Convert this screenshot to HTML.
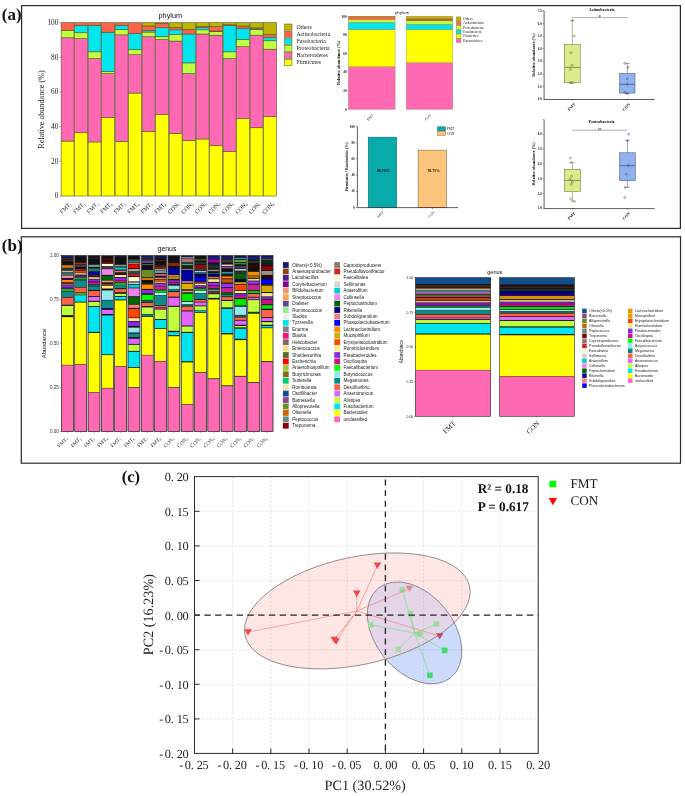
<!DOCTYPE html>
<html lang="en">
<head>
<meta charset="utf-8">
<title>Figure: phylum and genus composition, PCA</title>
<style>
html,body{margin:0;padding:0;background:#fff;}
body{width:685px;height:796px;overflow:hidden;}
svg{display:block;}
text{white-space:pre;}
</style>
</head>
<body>
<svg width="685" height="796" viewBox="0 0 685 796">
<rect x="0" y="0" width="685" height="796" fill="#ffffff"/>
<rect x="21.6" y="5.6" width="658.8" height="222.8" fill="none" stroke="#2a2a2a" stroke-width="1.2"/>
<text x="1.8" y="19.6" font-family="'Liberation Serif', serif" font-size="17" fill="#111" text-anchor="start" font-weight="bold">(a)</text>
<g stroke="#55552a" stroke-width="0.6">
<rect x="61.15" y="141.06" width="12.9" height="54.94" fill="#FFFF00"/>
<rect x="61.15" y="37.78" width="12.9" height="103.29" fill="#FF69B4"/>
<rect x="61.15" y="30.33" width="12.9" height="7.45" fill="#C0FF3E"/>
<rect x="61.15" y="22.7" width="12.9" height="7.63" fill="#FF6347"/>
<rect x="74.65" y="132.75" width="12.9" height="63.25" fill="#FFFF00"/>
<rect x="74.65" y="38.64" width="12.9" height="94.1" fill="#FF69B4"/>
<rect x="74.65" y="32.75" width="12.9" height="5.89" fill="#C0FF3E"/>
<rect x="74.65" y="25.3" width="12.9" height="7.45" fill="#00E5EE"/>
<rect x="74.65" y="22.7" width="12.9" height="2.6" fill="#FF6347"/>
<rect x="88.15" y="141.93" width="12.9" height="54.07" fill="#FFFF00"/>
<rect x="88.15" y="58.57" width="12.9" height="83.36" fill="#FF69B4"/>
<rect x="88.15" y="51.81" width="12.9" height="6.76" fill="#C0FF3E"/>
<rect x="88.15" y="25.3" width="12.9" height="26.51" fill="#00E5EE"/>
<rect x="88.15" y="22.7" width="12.9" height="2.6" fill="#FF6347"/>
<rect x="101.65" y="117.67" width="12.9" height="78.33" fill="#FFFF00"/>
<rect x="101.65" y="73.65" width="12.9" height="44.02" fill="#FF69B4"/>
<rect x="101.65" y="71.4" width="12.9" height="2.25" fill="#C0FF3E"/>
<rect x="101.65" y="32.23" width="12.9" height="39.17" fill="#00E5EE"/>
<rect x="101.65" y="22.7" width="12.9" height="9.53" fill="#FF6347"/>
<rect x="115.15" y="141.41" width="12.9" height="54.59" fill="#FFFF00"/>
<rect x="115.15" y="34.83" width="12.9" height="106.58" fill="#FF69B4"/>
<rect x="115.15" y="29.63" width="12.9" height="5.2" fill="#C0FF3E"/>
<rect x="115.15" y="25.3" width="12.9" height="4.33" fill="#00E5EE"/>
<rect x="115.15" y="22.7" width="12.9" height="2.6" fill="#FF6347"/>
<rect x="128.65" y="93.06" width="12.9" height="102.94" fill="#FFFF00"/>
<rect x="128.65" y="54.59" width="12.9" height="38.47" fill="#FF69B4"/>
<rect x="128.65" y="49.56" width="12.9" height="5.03" fill="#C0FF3E"/>
<rect x="128.65" y="33.44" width="12.9" height="16.12" fill="#00E5EE"/>
<rect x="128.65" y="22.7" width="12.9" height="10.74" fill="#FF6347"/>
<rect x="142.15" y="131.36" width="12.9" height="64.64" fill="#FFFF00"/>
<rect x="142.15" y="36.74" width="12.9" height="94.62" fill="#FF69B4"/>
<rect x="142.15" y="32.06" width="12.9" height="4.68" fill="#C0FF3E"/>
<rect x="142.15" y="30.67" width="12.9" height="1.39" fill="#00E5EE"/>
<rect x="142.15" y="25.99" width="12.9" height="4.68" fill="#FF6347"/>
<rect x="142.15" y="22.7" width="12.9" height="3.29" fill="#BDB500"/>
<rect x="155.65" y="114.55" width="12.9" height="81.45" fill="#FFFF00"/>
<rect x="155.65" y="39.51" width="12.9" height="75.04" fill="#FF69B4"/>
<rect x="155.65" y="36.74" width="12.9" height="2.77" fill="#C0FF3E"/>
<rect x="155.65" y="27.73" width="12.9" height="9.01" fill="#00E5EE"/>
<rect x="155.65" y="23.39" width="12.9" height="4.33" fill="#FF6347"/>
<rect x="155.65" y="22.7" width="12.9" height="0.69" fill="#BDB500"/>
<rect x="169.15" y="133.44" width="12.9" height="62.56" fill="#FFFF00"/>
<rect x="169.15" y="41.07" width="12.9" height="92.37" fill="#FF69B4"/>
<rect x="169.15" y="34.48" width="12.9" height="6.59" fill="#C0FF3E"/>
<rect x="169.15" y="29.81" width="12.9" height="4.68" fill="#00E5EE"/>
<rect x="169.15" y="27.38" width="12.9" height="2.43" fill="#FF6347"/>
<rect x="169.15" y="22.7" width="12.9" height="4.68" fill="#BDB500"/>
<rect x="182.65" y="140.54" width="12.9" height="55.46" fill="#FFFF00"/>
<rect x="182.65" y="73.48" width="12.9" height="67.07" fill="#FF69B4"/>
<rect x="182.65" y="62.91" width="12.9" height="10.57" fill="#C0FF3E"/>
<rect x="182.65" y="33.96" width="12.9" height="28.94" fill="#00E5EE"/>
<rect x="182.65" y="29.46" width="12.9" height="4.51" fill="#FF6347"/>
<rect x="182.65" y="22.7" width="12.9" height="6.76" fill="#BDB500"/>
<rect x="196.15" y="138.98" width="12.9" height="57.02" fill="#FFFF00"/>
<rect x="196.15" y="33.96" width="12.9" height="105.02" fill="#FF69B4"/>
<rect x="196.15" y="29.81" width="12.9" height="4.16" fill="#C0FF3E"/>
<rect x="196.15" y="27.73" width="12.9" height="2.08" fill="#00E5EE"/>
<rect x="196.15" y="26.51" width="12.9" height="1.21" fill="#FF6347"/>
<rect x="196.15" y="22.7" width="12.9" height="3.81" fill="#BDB500"/>
<rect x="209.65" y="145.74" width="12.9" height="50.26" fill="#FFFF00"/>
<rect x="209.65" y="35.18" width="12.9" height="110.57" fill="#FF69B4"/>
<rect x="209.65" y="31.71" width="12.9" height="3.47" fill="#C0FF3E"/>
<rect x="209.65" y="31.02" width="12.9" height="0.69" fill="#00E5EE"/>
<rect x="209.65" y="26.51" width="12.9" height="4.51" fill="#FF6347"/>
<rect x="209.65" y="22.7" width="12.9" height="3.81" fill="#BDB500"/>
<rect x="223.15" y="151.46" width="12.9" height="44.54" fill="#FFFF00"/>
<rect x="223.15" y="58.57" width="12.9" height="92.89" fill="#FF69B4"/>
<rect x="223.15" y="51.81" width="12.9" height="6.76" fill="#C0FF3E"/>
<rect x="223.15" y="25.65" width="12.9" height="26.17" fill="#00E5EE"/>
<rect x="223.15" y="24.78" width="12.9" height="0.87" fill="#FF6347"/>
<rect x="223.15" y="22.7" width="12.9" height="2.08" fill="#BDB500"/>
<rect x="236.65" y="118.71" width="12.9" height="77.29" fill="#FFFF00"/>
<rect x="236.65" y="46.62" width="12.9" height="72.09" fill="#FF69B4"/>
<rect x="236.65" y="39.68" width="12.9" height="6.93" fill="#C0FF3E"/>
<rect x="236.65" y="28.25" width="12.9" height="11.44" fill="#00E5EE"/>
<rect x="236.65" y="25.99" width="12.9" height="2.25" fill="#FF6347"/>
<rect x="236.65" y="22.7" width="12.9" height="3.29" fill="#BDB500"/>
<rect x="250.15" y="127.72" width="12.9" height="68.28" fill="#FFFF00"/>
<rect x="250.15" y="35.18" width="12.9" height="92.54" fill="#FF69B4"/>
<rect x="250.15" y="29.46" width="12.9" height="5.72" fill="#C0FF3E"/>
<rect x="250.15" y="28.94" width="12.9" height="0.52" fill="#00E5EE"/>
<rect x="250.15" y="27.9" width="12.9" height="1.04" fill="#FF6347"/>
<rect x="250.15" y="22.7" width="12.9" height="5.2" fill="#BDB500"/>
<rect x="263.65" y="116.63" width="12.9" height="79.37" fill="#FFFF00"/>
<rect x="263.65" y="49.21" width="12.9" height="67.41" fill="#FF69B4"/>
<rect x="263.65" y="40.72" width="12.9" height="8.49" fill="#C0FF3E"/>
<rect x="263.65" y="37.26" width="12.9" height="3.47" fill="#00E5EE"/>
<rect x="263.65" y="34.48" width="12.9" height="2.77" fill="#FF6347"/>
<rect x="263.65" y="22.7" width="12.9" height="11.78" fill="#BDB500"/>
</g>
<text x="58.4" y="198.4" font-family="'Liberation Serif', serif" font-size="7.3" fill="#222" text-anchor="end" font-weight="normal">0</text>
<line x1="59.3" y1="196" x2="61" y2="196" stroke="#555" stroke-width="0.5"/>
<text x="58.4" y="163.74" font-family="'Liberation Serif', serif" font-size="7.3" fill="#222" text-anchor="end" font-weight="normal">20</text>
<line x1="59.3" y1="161.34" x2="61" y2="161.34" stroke="#555" stroke-width="0.5"/>
<text x="58.4" y="129.08" font-family="'Liberation Serif', serif" font-size="7.3" fill="#222" text-anchor="end" font-weight="normal">40</text>
<line x1="59.3" y1="126.68" x2="61" y2="126.68" stroke="#555" stroke-width="0.5"/>
<text x="58.4" y="94.42" font-family="'Liberation Serif', serif" font-size="7.3" fill="#222" text-anchor="end" font-weight="normal">60</text>
<line x1="59.3" y1="92.02" x2="61" y2="92.02" stroke="#555" stroke-width="0.5"/>
<text x="58.4" y="59.76" font-family="'Liberation Serif', serif" font-size="7.3" fill="#222" text-anchor="end" font-weight="normal">80</text>
<line x1="59.3" y1="57.36" x2="61" y2="57.36" stroke="#555" stroke-width="0.5"/>
<text x="58.4" y="25.1" font-family="'Liberation Serif', serif" font-size="7.3" fill="#222" text-anchor="end" font-weight="normal">100</text>
<line x1="59.3" y1="22.7" x2="61" y2="22.7" stroke="#555" stroke-width="0.5"/>
<text x="43.6" y="109.5" font-family="'Liberation Serif', serif" font-size="8.2" fill="#222" text-anchor="middle" font-weight="normal" transform="rotate(-90 43.6 109.5)">Relative abundance (%)</text>
<text x="170.3" y="18.2" font-family="'Liberation Sans', sans-serif" font-size="7.3" fill="#111" text-anchor="middle" font-weight="normal">phylum</text>
<text x="67" y="209.2" font-family="'Liberation Serif', serif" font-size="5.9" fill="#222" text-anchor="middle" font-weight="normal" transform="rotate(-45 67 209.2)">FMT<tspan font-size="3.6" dy="1.2">1</tspan></text>
<text x="80.5" y="209.2" font-family="'Liberation Serif', serif" font-size="5.9" fill="#222" text-anchor="middle" font-weight="normal" transform="rotate(-45 80.5 209.2)">FMT<tspan font-size="3.6" dy="1.2">2</tspan></text>
<text x="94" y="209.2" font-family="'Liberation Serif', serif" font-size="5.9" fill="#222" text-anchor="middle" font-weight="normal" transform="rotate(-45 94 209.2)">FMT<tspan font-size="3.6" dy="1.2">3</tspan></text>
<text x="107.5" y="209.2" font-family="'Liberation Serif', serif" font-size="5.9" fill="#222" text-anchor="middle" font-weight="normal" transform="rotate(-45 107.5 209.2)">FMT<tspan font-size="3.6" dy="1.2">4</tspan></text>
<text x="121" y="209.2" font-family="'Liberation Serif', serif" font-size="5.9" fill="#222" text-anchor="middle" font-weight="normal" transform="rotate(-45 121 209.2)">FMT<tspan font-size="3.6" dy="1.2">5</tspan></text>
<text x="134.5" y="209.2" font-family="'Liberation Serif', serif" font-size="5.9" fill="#222" text-anchor="middle" font-weight="normal" transform="rotate(-45 134.5 209.2)">FMT<tspan font-size="3.6" dy="1.2">6</tspan></text>
<text x="148" y="209.2" font-family="'Liberation Serif', serif" font-size="5.9" fill="#222" text-anchor="middle" font-weight="normal" transform="rotate(-45 148 209.2)">FMT<tspan font-size="3.6" dy="1.2">7</tspan></text>
<text x="161.5" y="209.2" font-family="'Liberation Serif', serif" font-size="5.9" fill="#222" text-anchor="middle" font-weight="normal" transform="rotate(-45 161.5 209.2)">FMT<tspan font-size="3.6" dy="1.2">8</tspan></text>
<text x="175" y="209.2" font-family="'Liberation Serif', serif" font-size="5.9" fill="#222" text-anchor="middle" font-weight="normal" transform="rotate(-45 175 209.2)">CON<tspan font-size="3.6" dy="1.2">1</tspan></text>
<text x="188.5" y="209.2" font-family="'Liberation Serif', serif" font-size="5.9" fill="#222" text-anchor="middle" font-weight="normal" transform="rotate(-45 188.5 209.2)">CON<tspan font-size="3.6" dy="1.2">2</tspan></text>
<text x="202" y="209.2" font-family="'Liberation Serif', serif" font-size="5.9" fill="#222" text-anchor="middle" font-weight="normal" transform="rotate(-45 202 209.2)">CON<tspan font-size="3.6" dy="1.2">3</tspan></text>
<text x="215.5" y="209.2" font-family="'Liberation Serif', serif" font-size="5.9" fill="#222" text-anchor="middle" font-weight="normal" transform="rotate(-45 215.5 209.2)">CON<tspan font-size="3.6" dy="1.2">4</tspan></text>
<text x="229" y="209.2" font-family="'Liberation Serif', serif" font-size="5.9" fill="#222" text-anchor="middle" font-weight="normal" transform="rotate(-45 229 209.2)">CON<tspan font-size="3.6" dy="1.2">5</tspan></text>
<text x="242.5" y="209.2" font-family="'Liberation Serif', serif" font-size="5.9" fill="#222" text-anchor="middle" font-weight="normal" transform="rotate(-45 242.5 209.2)">CON<tspan font-size="3.6" dy="1.2">6</tspan></text>
<text x="256" y="209.2" font-family="'Liberation Serif', serif" font-size="5.9" fill="#222" text-anchor="middle" font-weight="normal" transform="rotate(-45 256 209.2)">CON<tspan font-size="3.6" dy="1.2">7</tspan></text>
<text x="269.5" y="209.2" font-family="'Liberation Serif', serif" font-size="5.9" fill="#222" text-anchor="middle" font-weight="normal" transform="rotate(-45 269.5 209.2)">CON<tspan font-size="3.6" dy="1.2">8</tspan></text>
<rect x="284.5" y="24" width="7.5" height="6.1" fill="#BDB500" stroke="#6b6b2a" stroke-width="0.6"/>
<text x="296.4" y="28.9" font-family="'Liberation Serif', serif" font-size="5.75" fill="#222" text-anchor="start" font-weight="normal">Others</text>
<rect x="284.5" y="31.1" width="7.5" height="6.1" fill="#FF6347" stroke="#6b6b2a" stroke-width="0.6"/>
<text x="296.4" y="36" font-family="'Liberation Serif', serif" font-size="5.75" fill="#222" text-anchor="start" font-weight="normal">Actinobacteria</text>
<rect x="284.5" y="38.2" width="7.5" height="6.1" fill="#00E5EE" stroke="#6b6b2a" stroke-width="0.6"/>
<text x="296.4" y="43.1" font-family="'Liberation Serif', serif" font-size="5.75" fill="#222" text-anchor="start" font-weight="normal">Fusobacteria</text>
<rect x="284.5" y="45.3" width="7.5" height="6.1" fill="#C0FF3E" stroke="#6b6b2a" stroke-width="0.6"/>
<text x="296.4" y="50.2" font-family="'Liberation Serif', serif" font-size="5.75" fill="#222" text-anchor="start" font-weight="normal">Proteobacteria</text>
<rect x="284.5" y="52.4" width="7.5" height="6.1" fill="#FF69B4" stroke="#6b6b2a" stroke-width="0.6"/>
<text x="296.4" y="57.3" font-family="'Liberation Serif', serif" font-size="5.75" fill="#222" text-anchor="start" font-weight="normal">Bacteroidetes</text>
<rect x="284.5" y="59.5" width="7.5" height="6.1" fill="#FFFF00" stroke="#6b6b2a" stroke-width="0.6"/>
<text x="296.4" y="64.4" font-family="'Liberation Serif', serif" font-size="5.75" fill="#222" text-anchor="start" font-weight="normal">Firmicutes</text>
<g stroke="#8a7a3a" stroke-width="0.35">
<rect x="348.4" y="66.8" width="46.7" height="42.5" fill="#FF69B4"/>
<rect x="348.4" y="29.6" width="46.7" height="37.2" fill="#FFFF00"/>
<rect x="348.4" y="22.34" width="46.7" height="7.25" fill="#00E5EE"/>
<rect x="348.4" y="19.65" width="46.7" height="2.7" fill="#C0FF3E"/>
<rect x="348.4" y="16.86" width="46.7" height="2.79" fill="#FF6347"/>
<rect x="348.4" y="16.3" width="46.7" height="0.56" fill="#BDB500"/>
<rect x="406.3" y="62.61" width="46.5" height="46.69" fill="#FF69B4"/>
<rect x="406.3" y="29.6" width="46.5" height="33.02" fill="#FFFF00"/>
<rect x="406.3" y="24.3" width="46.5" height="5.3" fill="#00E5EE"/>
<rect x="406.3" y="20.86" width="46.5" height="3.44" fill="#C0FF3E"/>
<rect x="406.3" y="18.72" width="46.5" height="2.14" fill="#BC5F28"/>
<rect x="406.3" y="16.3" width="46.5" height="2.42" fill="#BDB500"/>
</g>
<text x="346.6" y="110.5" font-family="'Liberation Serif', serif" font-size="3.4" fill="#111" text-anchor="end" font-weight="bold">0</text>
<line x1="347" y1="109.3" x2="348.2" y2="109.3" stroke="#666" stroke-width="0.3"/>
<text x="346.6" y="91.9" font-family="'Liberation Serif', serif" font-size="3.4" fill="#111" text-anchor="end" font-weight="bold">20</text>
<line x1="347" y1="90.7" x2="348.2" y2="90.7" stroke="#666" stroke-width="0.3"/>
<text x="346.6" y="73.3" font-family="'Liberation Serif', serif" font-size="3.4" fill="#111" text-anchor="end" font-weight="bold">40</text>
<line x1="347" y1="72.1" x2="348.2" y2="72.1" stroke="#666" stroke-width="0.3"/>
<text x="346.6" y="54.7" font-family="'Liberation Serif', serif" font-size="3.4" fill="#111" text-anchor="end" font-weight="bold">60</text>
<line x1="347" y1="53.5" x2="348.2" y2="53.5" stroke="#666" stroke-width="0.3"/>
<text x="346.6" y="36.1" font-family="'Liberation Serif', serif" font-size="3.4" fill="#111" text-anchor="end" font-weight="bold">80</text>
<line x1="347" y1="34.9" x2="348.2" y2="34.9" stroke="#666" stroke-width="0.3"/>
<text x="346.6" y="17.5" font-family="'Liberation Serif', serif" font-size="3.4" fill="#111" text-anchor="end" font-weight="bold">100</text>
<line x1="347" y1="16.3" x2="348.2" y2="16.3" stroke="#666" stroke-width="0.3"/>
<text x="340.2" y="62.7" font-family="'Liberation Serif', serif" font-size="4.3" fill="#000" text-anchor="middle" font-weight="bold" transform="rotate(-90 340.2 62.7)">Relative abundance (%)</text>
<text x="402" y="13.8" font-family="'Liberation Sans', sans-serif" font-size="4.4" fill="#222" text-anchor="middle" font-weight="normal">phylum</text>
<text x="371" y="118.4" font-family="'Liberation Serif', serif" font-size="3.6" fill="#222" text-anchor="middle" font-weight="normal" transform="rotate(-45 371 118.4)">FMT</text>
<text x="428.6" y="118.4" font-family="'Liberation Serif', serif" font-size="3.6" fill="#222" text-anchor="middle" font-weight="normal" transform="rotate(-45 428.6 118.4)">CON</text>
<rect x="456.3" y="16.9" width="4.7" height="3.9" fill="#BDB500" stroke="#7a7a3a" stroke-width="0.35"/>
<text x="463.3" y="20" font-family="'Liberation Serif', serif" font-size="3.5" fill="#222" text-anchor="start" font-weight="normal">Others</text>
<rect x="456.3" y="21.27" width="4.7" height="3.9" fill="#FF6347" stroke="#7a7a3a" stroke-width="0.35"/>
<text x="463.3" y="24.37" font-family="'Liberation Serif', serif" font-size="3.5" fill="#222" text-anchor="start" font-weight="normal">Actinobacteria</text>
<rect x="456.3" y="25.64" width="4.7" height="3.9" fill="#C0FF3E" stroke="#7a7a3a" stroke-width="0.35"/>
<text x="463.3" y="28.74" font-family="'Liberation Serif', serif" font-size="3.5" fill="#222" text-anchor="start" font-weight="normal">Proteobacteria</text>
<rect x="456.3" y="30.01" width="4.7" height="3.9" fill="#00E5EE" stroke="#7a7a3a" stroke-width="0.35"/>
<text x="463.3" y="33.11" font-family="'Liberation Serif', serif" font-size="3.5" fill="#222" text-anchor="start" font-weight="normal">Fusobacteria</text>
<rect x="456.3" y="34.38" width="4.7" height="3.9" fill="#FFFF00" stroke="#7a7a3a" stroke-width="0.35"/>
<text x="463.3" y="37.48" font-family="'Liberation Serif', serif" font-size="3.5" fill="#222" text-anchor="start" font-weight="normal">Firmicutes</text>
<rect x="456.3" y="38.75" width="4.7" height="3.9" fill="#FF69B4" stroke="#7a7a3a" stroke-width="0.35"/>
<text x="463.3" y="41.85" font-family="'Liberation Serif', serif" font-size="3.5" fill="#222" text-anchor="start" font-weight="normal">Bacteroidetes</text>
<rect x="368.2" y="137.15" width="28.5" height="70.45" fill="#08AAAA" stroke="#1a5a5a" stroke-width="0.5"/>
<rect x="418.1" y="150.15" width="28.5" height="57.45" fill="#FDC57B" stroke="#6a5030" stroke-width="0.5"/>
<line x1="357.4" y1="126.4" x2="357.4" y2="207.6" stroke="#2a2a2a" stroke-width="0.75"/>
<line x1="357.4" y1="207.6" x2="458" y2="207.6" stroke="#2a2a2a" stroke-width="0.75"/>
<text x="354.6" y="208.7" font-family="'Liberation Serif', serif" font-size="3.2" fill="#111" text-anchor="end" font-weight="bold">0</text>
<line x1="355.6" y1="207.6" x2="357.4" y2="207.6" stroke="#333" stroke-width="0.4"/>
<text x="354.6" y="192.46" font-family="'Liberation Serif', serif" font-size="3.2" fill="#111" text-anchor="end" font-weight="bold">20</text>
<line x1="355.6" y1="191.36" x2="357.4" y2="191.36" stroke="#333" stroke-width="0.4"/>
<text x="354.6" y="176.22" font-family="'Liberation Serif', serif" font-size="3.2" fill="#111" text-anchor="end" font-weight="bold">40</text>
<line x1="355.6" y1="175.12" x2="357.4" y2="175.12" stroke="#333" stroke-width="0.4"/>
<text x="354.6" y="159.98" font-family="'Liberation Serif', serif" font-size="3.2" fill="#111" text-anchor="end" font-weight="bold">60</text>
<line x1="355.6" y1="158.88" x2="357.4" y2="158.88" stroke="#333" stroke-width="0.4"/>
<text x="354.6" y="143.74" font-family="'Liberation Serif', serif" font-size="3.2" fill="#111" text-anchor="end" font-weight="bold">80</text>
<line x1="355.6" y1="142.64" x2="357.4" y2="142.64" stroke="#333" stroke-width="0.4"/>
<text x="354.6" y="127.5" font-family="'Liberation Serif', serif" font-size="3.2" fill="#111" text-anchor="end" font-weight="bold">100</text>
<line x1="355.6" y1="126.4" x2="357.4" y2="126.4" stroke="#333" stroke-width="0.4"/>
<line x1="382.5" y1="207.6" x2="382.5" y2="209.2" stroke="#333" stroke-width="0.4"/>
<line x1="432.4" y1="207.6" x2="432.4" y2="209.2" stroke="#333" stroke-width="0.4"/>
<text x="383.3" y="171.9" font-family="'Liberation Serif', serif" font-size="3.8" fill="#000" text-anchor="middle" font-weight="bold">86.76%</text>
<text x="433.6" y="171.9" font-family="'Liberation Serif', serif" font-size="3.8" fill="#000" text-anchor="middle" font-weight="bold">70.75%</text>
<text x="348" y="167" font-family="'Liberation Serif', serif" font-size="4" fill="#000" text-anchor="middle" font-weight="bold" transform="rotate(-90 348 167)">Firmicutes / Bacteroides (%)</text>
<text x="381.5" y="215.4" font-family="'Liberation Serif', serif" font-size="3.6" fill="#222" text-anchor="middle" font-weight="normal" transform="rotate(-45 381.5 215.4)">FMT</text>
<text x="432.2" y="215.4" font-family="'Liberation Serif', serif" font-size="3.6" fill="#222" text-anchor="middle" font-weight="normal" transform="rotate(-45 432.2 215.4)">CON</text>
<rect x="437.5" y="126.8" width="8.1" height="4.1" fill="#08AAAA" stroke="#1a5a5a" stroke-width="0.4"/>
<rect x="437.5" y="131.4" width="8.1" height="4.1" fill="#FDC57B" stroke="#6a5030" stroke-width="0.4"/>
<text x="446.8" y="130.2" font-family="'Liberation Serif', serif" font-size="3.6" fill="#222" text-anchor="start" font-weight="normal">FMT</text>
<text x="446.8" y="134.8" font-family="'Liberation Serif', serif" font-size="3.6" fill="#222" text-anchor="start" font-weight="normal">CON</text>
<line x1="544.1" y1="10.9" x2="544.1" y2="99.5" stroke="#2a2a2a" stroke-width="0.75"/>
<line x1="544.1" y1="99.5" x2="654.7" y2="99.5" stroke="#2a2a2a" stroke-width="0.75"/>
<text x="541.8" y="100.3" font-family="'Liberation Serif', serif" font-size="3.2" fill="#111" text-anchor="end" font-weight="bold">0.0</text>
<line x1="542.6" y1="99.2" x2="544.1" y2="99.2" stroke="#333" stroke-width="0.4"/>
<text x="541.8" y="87.69" font-family="'Liberation Serif', serif" font-size="3.2" fill="#111" text-anchor="end" font-weight="bold">1.0</text>
<line x1="542.6" y1="86.59" x2="544.1" y2="86.59" stroke="#333" stroke-width="0.4"/>
<text x="541.8" y="75.07" font-family="'Liberation Serif', serif" font-size="3.2" fill="#111" text-anchor="end" font-weight="bold">2.0</text>
<line x1="542.6" y1="73.97" x2="544.1" y2="73.97" stroke="#333" stroke-width="0.4"/>
<text x="541.8" y="62.46" font-family="'Liberation Serif', serif" font-size="3.2" fill="#111" text-anchor="end" font-weight="bold">3.0</text>
<line x1="542.6" y1="61.36" x2="544.1" y2="61.36" stroke="#333" stroke-width="0.4"/>
<text x="541.8" y="49.84" font-family="'Liberation Serif', serif" font-size="3.2" fill="#111" text-anchor="end" font-weight="bold">4.0</text>
<line x1="542.6" y1="48.74" x2="544.1" y2="48.74" stroke="#333" stroke-width="0.4"/>
<text x="541.8" y="37.23" font-family="'Liberation Serif', serif" font-size="3.2" fill="#111" text-anchor="end" font-weight="bold">5.0</text>
<line x1="542.6" y1="36.13" x2="544.1" y2="36.13" stroke="#333" stroke-width="0.4"/>
<text x="541.8" y="24.61" font-family="'Liberation Serif', serif" font-size="3.2" fill="#111" text-anchor="end" font-weight="bold">6.0</text>
<line x1="542.6" y1="23.51" x2="544.1" y2="23.51" stroke="#333" stroke-width="0.4"/>
<text x="541.8" y="12" font-family="'Liberation Serif', serif" font-size="3.2" fill="#111" text-anchor="end" font-weight="bold">7.0</text>
<line x1="542.6" y1="10.9" x2="544.1" y2="10.9" stroke="#333" stroke-width="0.4"/>
<line x1="542.6" y1="10.9" x2="544.1" y2="10.9" stroke="#333" stroke-width="0.4"/>
<text x="601.7" y="10.6" font-family="'Liberation Serif', serif" font-size="4.1" fill="#000" text-anchor="middle" font-weight="bold">Actinobacteria</text>
<text x="535.4" y="55.05" font-family="'Liberation Serif', serif" font-size="4.2" fill="#000" text-anchor="middle" font-weight="bold" transform="rotate(-90 535.4 55.05)">Relative abundance (%)</text>
<line x1="572.1" y1="17.6" x2="627.3" y2="17.6" stroke="#777" stroke-width="0.6"/>
<text x="599.6" y="18.5" font-family="'Liberation Serif', serif" font-size="6.5" fill="#333" text-anchor="middle" font-weight="normal">*</text>
<line x1="572.3" y1="20.4" x2="572.3" y2="44.4" stroke="#5f6a35" stroke-width="0.5"/>
<line x1="572.3" y1="82.8" x2="572.3" y2="83.2" stroke="#5f6a35" stroke-width="0.5"/>
<line x1="570.1" y1="20.4" x2="574.5" y2="20.4" stroke="#5f6a35" stroke-width="0.5"/>
<line x1="570.1" y1="83.2" x2="574.5" y2="83.2" stroke="#5f6a35" stroke-width="0.5"/>
<rect x="564.4" y="44.4" width="15.8" height="38.4" fill="#D9EC8A" stroke="#5f6a35" stroke-width="0.5"/>
<line x1="564.4" y1="67.4" x2="580.2" y2="67.4" stroke="#5f6a35" stroke-width="0.7"/>
<circle cx="574.3" cy="36.1" r="1.0" fill="none" stroke="#5f6a35" stroke-width="0.5"/>
<circle cx="570.8" cy="52.6" r="1.0" fill="none" stroke="#5f6a35" stroke-width="0.5"/>
<circle cx="571.9" cy="65.3" r="1.0" fill="none" stroke="#5f6a35" stroke-width="0.5"/>
<circle cx="570.4" cy="69.6" r="1.0" fill="none" stroke="#5f6a35" stroke-width="0.5"/>
<circle cx="570" cy="82.8" r="1.0" fill="none" stroke="#5f6a35" stroke-width="0.5"/>
<circle cx="572" cy="82.3" r="1.0" fill="none" stroke="#5f6a35" stroke-width="0.5"/>
<circle cx="572.5" cy="20.4" r="1.0" fill="none" stroke="#5f6a35" stroke-width="0.5"/>
<line x1="572.3" y1="99.2" x2="572.3" y2="100.7" stroke="#333" stroke-width="0.4"/>
<line x1="627.3" y1="63.5" x2="627.3" y2="73.4" stroke="#3a4870" stroke-width="0.5"/>
<line x1="627.3" y1="93.1" x2="627.3" y2="93.6" stroke="#3a4870" stroke-width="0.5"/>
<line x1="625.1" y1="63.5" x2="629.5" y2="63.5" stroke="#3a4870" stroke-width="0.5"/>
<line x1="625.1" y1="93.6" x2="629.5" y2="93.6" stroke="#3a4870" stroke-width="0.5"/>
<rect x="619.6" y="73.4" width="15.4" height="19.7" fill="#8FB2EF" stroke="#3a4870" stroke-width="0.5"/>
<line x1="619.6" y1="84.3" x2="635" y2="84.3" stroke="#3a4870" stroke-width="0.7"/>
<circle cx="624.7" cy="63.3" r="1.0" fill="none" stroke="#3a4870" stroke-width="0.5"/>
<circle cx="627.9" cy="67.4" r="1.0" fill="none" stroke="#3a4870" stroke-width="0.5"/>
<circle cx="627.3" cy="78.8" r="1.0" fill="none" stroke="#3a4870" stroke-width="0.5"/>
<circle cx="627.3" cy="84.3" r="1.0" fill="none" stroke="#3a4870" stroke-width="0.5"/>
<circle cx="625.1" cy="92.4" r="1.0" fill="none" stroke="#3a4870" stroke-width="0.5"/>
<circle cx="627.3" cy="93.7" r="1.0" fill="none" stroke="#3a4870" stroke-width="0.5"/>
<line x1="627.3" y1="99.2" x2="627.3" y2="100.7" stroke="#333" stroke-width="0.4"/>
<text x="572.4" y="107.8" font-family="'Liberation Serif', serif" font-size="4" fill="#111" text-anchor="middle" font-weight="bold" transform="rotate(-45 572.4 107.8)">FMT</text>
<text x="627.2" y="107.8" font-family="'Liberation Serif', serif" font-size="4" fill="#111" text-anchor="middle" font-weight="bold" transform="rotate(-45 627.2 107.8)">CON</text>
<line x1="544.1" y1="119.6" x2="544.1" y2="208.6" stroke="#2a2a2a" stroke-width="0.75"/>
<line x1="544.1" y1="208.6" x2="654.7" y2="208.6" stroke="#2a2a2a" stroke-width="0.75"/>
<text x="541.8" y="209.4" font-family="'Liberation Serif', serif" font-size="3.2" fill="#111" text-anchor="end" font-weight="bold">1.0</text>
<line x1="542.6" y1="208.3" x2="544.1" y2="208.3" stroke="#333" stroke-width="0.4"/>
<text x="541.8" y="194.62" font-family="'Liberation Serif', serif" font-size="3.2" fill="#111" text-anchor="end" font-weight="bold">2.0</text>
<line x1="542.6" y1="193.52" x2="544.1" y2="193.52" stroke="#333" stroke-width="0.4"/>
<text x="541.8" y="179.83" font-family="'Liberation Serif', serif" font-size="3.2" fill="#111" text-anchor="end" font-weight="bold">3.0</text>
<line x1="542.6" y1="178.73" x2="544.1" y2="178.73" stroke="#333" stroke-width="0.4"/>
<text x="541.8" y="165.05" font-family="'Liberation Serif', serif" font-size="3.2" fill="#111" text-anchor="end" font-weight="bold">4.0</text>
<line x1="542.6" y1="163.95" x2="544.1" y2="163.95" stroke="#333" stroke-width="0.4"/>
<text x="541.8" y="150.27" font-family="'Liberation Serif', serif" font-size="3.2" fill="#111" text-anchor="end" font-weight="bold">5.0</text>
<line x1="542.6" y1="149.17" x2="544.1" y2="149.17" stroke="#333" stroke-width="0.4"/>
<text x="541.8" y="135.48" font-family="'Liberation Serif', serif" font-size="3.2" fill="#111" text-anchor="end" font-weight="bold">6.0</text>
<line x1="542.6" y1="134.38" x2="544.1" y2="134.38" stroke="#333" stroke-width="0.4"/>
<line x1="542.6" y1="119.6" x2="544.1" y2="119.6" stroke="#333" stroke-width="0.4"/>
<text x="601.7" y="122.6" font-family="'Liberation Serif', serif" font-size="4.1" fill="#000" text-anchor="middle" font-weight="bold">Proteobacteria</text>
<text x="535.4" y="163.95" font-family="'Liberation Serif', serif" font-size="4.2" fill="#000" text-anchor="middle" font-weight="bold" transform="rotate(-90 535.4 163.95)">Relative abundance (%)</text>
<line x1="572.1" y1="130.2" x2="627.3" y2="130.2" stroke="#777" stroke-width="0.6"/>
<text x="599.6" y="129.6" font-family="'Liberation Serif', serif" font-size="4.2" fill="#333" text-anchor="middle" font-weight="normal">ns</text>
<line x1="572.45" y1="162.5" x2="572.45" y2="169.4" stroke="#5f6a35" stroke-width="0.5"/>
<line x1="572.45" y1="191.5" x2="572.45" y2="201.2" stroke="#5f6a35" stroke-width="0.5"/>
<line x1="570.25" y1="162.5" x2="574.65" y2="162.5" stroke="#5f6a35" stroke-width="0.5"/>
<line x1="570.25" y1="201.2" x2="574.65" y2="201.2" stroke="#5f6a35" stroke-width="0.5"/>
<rect x="564.4" y="169.4" width="16.1" height="22.1" fill="#D9EC8A" stroke="#5f6a35" stroke-width="0.5"/>
<line x1="564.4" y1="180.4" x2="580.5" y2="180.4" stroke="#5f6a35" stroke-width="0.7"/>
<circle cx="570.4" cy="158.1" r="1.0" fill="none" stroke="#5f6a35" stroke-width="0.5"/>
<circle cx="571.5" cy="176.2" r="1.0" fill="none" stroke="#5f6a35" stroke-width="0.5"/>
<circle cx="570.2" cy="179.1" r="1.0" fill="none" stroke="#5f6a35" stroke-width="0.5"/>
<circle cx="572.2" cy="182" r="1.0" fill="none" stroke="#5f6a35" stroke-width="0.5"/>
<circle cx="571.3" cy="184.4" r="1.0" fill="none" stroke="#5f6a35" stroke-width="0.5"/>
<circle cx="570.5" cy="198.6" r="1.0" fill="none" stroke="#5f6a35" stroke-width="0.5"/>
<circle cx="574.4" cy="201.3" r="1.0" fill="none" stroke="#5f6a35" stroke-width="0.5"/>
<circle cx="571" cy="162.5" r="1.0" fill="none" stroke="#5f6a35" stroke-width="0.5"/>
<line x1="572.45" y1="208.3" x2="572.45" y2="209.8" stroke="#333" stroke-width="0.4"/>
<line x1="627.45" y1="140.5" x2="627.45" y2="152.8" stroke="#3a4870" stroke-width="0.5"/>
<line x1="627.45" y1="180.7" x2="627.45" y2="187.5" stroke="#3a4870" stroke-width="0.5"/>
<line x1="625.25" y1="140.5" x2="629.65" y2="140.5" stroke="#3a4870" stroke-width="0.5"/>
<line x1="625.25" y1="187.5" x2="629.65" y2="187.5" stroke="#3a4870" stroke-width="0.5"/>
<rect x="619.6" y="152.8" width="15.7" height="27.9" fill="#8FB2EF" stroke="#3a4870" stroke-width="0.5"/>
<line x1="619.6" y1="165.7" x2="635.3" y2="165.7" stroke="#3a4870" stroke-width="0.7"/>
<circle cx="628.7" cy="134.2" r="1.0" fill="none" stroke="#3a4870" stroke-width="0.5"/>
<circle cx="627.5" cy="140.5" r="1.0" fill="none" stroke="#3a4870" stroke-width="0.5"/>
<circle cx="628.3" cy="165.5" r="1.0" fill="none" stroke="#3a4870" stroke-width="0.5"/>
<circle cx="626.3" cy="174.2" r="1.0" fill="none" stroke="#3a4870" stroke-width="0.5"/>
<circle cx="625.2" cy="187.4" r="1.0" fill="none" stroke="#3a4870" stroke-width="0.5"/>
<circle cx="624.8" cy="197.5" r="1.0" fill="none" stroke="#3a4870" stroke-width="0.5"/>
<line x1="627.45" y1="208.3" x2="627.45" y2="209.8" stroke="#333" stroke-width="0.4"/>
<text x="572.4" y="216.9" font-family="'Liberation Serif', serif" font-size="4" fill="#111" text-anchor="middle" font-weight="bold" transform="rotate(-45 572.4 216.9)">FMT</text>
<text x="627.2" y="216.9" font-family="'Liberation Serif', serif" font-size="4" fill="#111" text-anchor="middle" font-weight="bold" transform="rotate(-45 627.2 216.9)">CON</text>
<rect x="21.3" y="236.8" width="659.2" height="226.4" fill="none" stroke="#2a2a2a" stroke-width="1.2"/>
<text x="1.8" y="250.7" font-family="'Liberation Serif', serif" font-size="17" fill="#111" text-anchor="start" font-weight="bold">(b)</text>
<rect x="61.4" y="255.6" width="12" height="176" fill="#101010"/>
<rect x="61.65" y="255.6" width="11.5" height="2.12" fill="#191970"/>
<rect x="61.65" y="257.98" width="11.5" height="0.7" fill="#6B3A1A"/>
<rect x="61.65" y="259.92" width="11.5" height="1.06" fill="#3A3A3A"/>
<rect x="61.65" y="265.19" width="11.5" height="2.64" fill="#E07800"/>
<rect x="61.65" y="268.09" width="11.5" height="2.37" fill="#1A3A3A"/>
<rect x="61.65" y="270.73" width="11.5" height="1.5" fill="#D2B48C"/>
<rect x="61.65" y="272.4" width="11.5" height="2.9" fill="#2F6F6F"/>
<rect x="61.65" y="275.57" width="11.5" height="2.37" fill="#FF8C8C"/>
<rect x="61.65" y="278.12" width="11.5" height="1.58" fill="#2A0A6A"/>
<rect x="61.65" y="279.97" width="11.5" height="2.37" fill="#FF8C00"/>
<rect x="61.65" y="282.34" width="11.5" height="1.5" fill="#5A2D00"/>
<rect x="61.65" y="283.84" width="11.5" height="1.14" fill="#8B7355"/>
<rect x="61.65" y="285.25" width="11.5" height="2.37" fill="#8A2BE2"/>
<rect x="61.65" y="287.62" width="11.5" height="1.14" fill="#5A1A7A"/>
<rect x="61.65" y="288.94" width="11.5" height="2.2" fill="#1DB31D"/>
<rect x="61.65" y="291.31" width="11.5" height="0.7" fill="#1A5A5A"/>
<rect x="61.65" y="292.02" width="11.5" height="5.01" fill="#108B8B"/>
<rect x="61.65" y="297.73" width="11.5" height="7.04" fill="#FF6347"/>
<rect x="61.65" y="305.91" width="11.5" height="9.23" fill="#C0FF3E"/>
<rect x="61.65" y="317.1" width="11.5" height="47.8" fill="#FFFF00"/>
<rect x="61.65" y="365.3" width="11.5" height="66.1" fill="#FF69B4"/>
<rect x="61.4" y="255.6" width="12" height="176" fill="none" stroke="#3a3a3a" stroke-width="0.7"/>
<rect x="74.71" y="255.6" width="12" height="176" fill="#101010"/>
<rect x="74.96" y="255.6" width="11.5" height="0.8" fill="#191970"/>
<rect x="74.96" y="262.73" width="11.5" height="1.58" fill="#A52A2A"/>
<rect x="74.96" y="264.75" width="11.5" height="2.2" fill="#404040"/>
<rect x="74.96" y="268.89" width="11.5" height="1.14" fill="#7A2A2A"/>
<rect x="74.96" y="270.65" width="11.5" height="2.02" fill="#E8430A"/>
<rect x="74.96" y="272.93" width="11.5" height="1.76" fill="#D2B06A"/>
<rect x="74.96" y="275.04" width="11.5" height="2.02" fill="#5B0F9B"/>
<rect x="74.96" y="277.51" width="11.5" height="1.93" fill="#1DB31D"/>
<rect x="74.96" y="279.44" width="11.5" height="1.14" fill="#2A5A5A"/>
<rect x="74.96" y="280.58" width="11.5" height="6.6" fill="#108B8B"/>
<rect x="74.96" y="287.62" width="11.5" height="4.66" fill="#FF6347"/>
<rect x="74.96" y="292.63" width="11.5" height="2.46" fill="#6B8E23"/>
<rect x="74.96" y="295.27" width="11.5" height="6.42" fill="#00E5EE"/>
<rect x="74.96" y="302.5" width="11.5" height="61.7" fill="#FFFF00"/>
<rect x="74.96" y="364.6" width="11.5" height="66.8" fill="#FF69B4"/>
<rect x="74.71" y="255.6" width="12" height="176" fill="none" stroke="#3a3a3a" stroke-width="0.7"/>
<rect x="88.02" y="255.6" width="12" height="176" fill="#101010"/>
<rect x="88.27" y="255.6" width="11.5" height="0.8" fill="#191970"/>
<rect x="88.27" y="257.72" width="11.5" height="0.88" fill="#4A2A10"/>
<rect x="88.27" y="264.75" width="11.5" height="2.2" fill="#6A9A9A"/>
<rect x="88.27" y="268.53" width="11.5" height="2.37" fill="#1A7F7F"/>
<rect x="88.27" y="271.09" width="11.5" height="1.14" fill="#3A2A4A"/>
<rect x="88.27" y="272.4" width="11.5" height="2.29" fill="#0000CD"/>
<rect x="88.27" y="274.87" width="11.5" height="1.32" fill="#5A2D00"/>
<rect x="88.27" y="277.07" width="11.5" height="2.02" fill="#DDB87A"/>
<rect x="88.27" y="279.44" width="11.5" height="2.02" fill="#8A2BE2"/>
<rect x="88.27" y="282.17" width="11.5" height="1.93" fill="#C71585"/>
<rect x="88.27" y="284.37" width="11.5" height="1.93" fill="#2A5A5A"/>
<rect x="88.27" y="286.56" width="11.5" height="3.43" fill="#108B8B"/>
<rect x="88.27" y="290.96" width="11.5" height="5.01" fill="#FF6347"/>
<rect x="88.27" y="296.85" width="11.5" height="3.96" fill="#E066FF"/>
<rect x="88.27" y="301.87" width="11.5" height="4.22" fill="#C0FF3E"/>
<rect x="88.27" y="306.9" width="11.5" height="25" fill="#00E5EE"/>
<rect x="88.27" y="332.9" width="11.5" height="59.4" fill="#FFFF00"/>
<rect x="88.27" y="392.7" width="11.5" height="38.7" fill="#FF69B4"/>
<rect x="88.02" y="255.6" width="12" height="176" fill="none" stroke="#3a3a3a" stroke-width="0.7"/>
<rect x="101.33" y="255.6" width="12" height="176" fill="#101010"/>
<rect x="101.58" y="258.6" width="11.5" height="1.32" fill="#600000"/>
<rect x="101.58" y="261.67" width="11.5" height="1.76" fill="#700010"/>
<rect x="101.58" y="263.87" width="11.5" height="2.2" fill="#FFFACD"/>
<rect x="101.58" y="266.25" width="11.5" height="2.46" fill="#404040"/>
<rect x="101.58" y="269.15" width="11.5" height="5.72" fill="#EE82EE"/>
<rect x="101.58" y="275.75" width="11.5" height="4.57" fill="#006400"/>
<rect x="101.58" y="280.58" width="11.5" height="1.76" fill="#E9967A"/>
<rect x="101.58" y="283.84" width="11.5" height="1.76" fill="#8B4513"/>
<rect x="101.58" y="285.86" width="11.5" height="2.64" fill="#FFEC8B"/>
<rect x="101.58" y="290.43" width="11.5" height="9.5" fill="#96E6F0"/>
<rect x="101.58" y="300.37" width="11.5" height="7.92" fill="#108B8B"/>
<rect x="101.58" y="308.29" width="11.5" height="1.32" fill="#101050"/>
<rect x="101.58" y="309.87" width="11.5" height="4.13" fill="#E066FF"/>
<rect x="101.58" y="315.4" width="11.5" height="39" fill="#00E5EE"/>
<rect x="101.58" y="355.1" width="11.5" height="32.8" fill="#FFFF00"/>
<rect x="101.58" y="388.3" width="11.5" height="43.1" fill="#FF69B4"/>
<rect x="101.33" y="255.6" width="12" height="176" fill="none" stroke="#3a3a3a" stroke-width="0.7"/>
<rect x="114.64" y="255.6" width="12" height="176" fill="#101010"/>
<rect x="114.89" y="255.6" width="11.5" height="0.8" fill="#191970"/>
<rect x="114.89" y="264.75" width="11.5" height="1.76" fill="#909090"/>
<rect x="114.89" y="266.69" width="11.5" height="0.7" fill="#1A5A5A"/>
<rect x="114.89" y="267.57" width="11.5" height="2.02" fill="#00CED1"/>
<rect x="114.89" y="270.65" width="11.5" height="1.58" fill="#E9757A"/>
<rect x="114.89" y="273.11" width="11.5" height="1.32" fill="#3A1A0A"/>
<rect x="114.89" y="275.04" width="11.5" height="2.02" fill="#FFEC8B"/>
<rect x="114.89" y="277.77" width="11.5" height="2.37" fill="#8A2BE2"/>
<rect x="114.89" y="280.32" width="11.5" height="2.02" fill="#C71585"/>
<rect x="114.89" y="282.78" width="11.5" height="2.2" fill="#1DB31D"/>
<rect x="114.89" y="285.16" width="11.5" height="3.08" fill="#108B8B"/>
<rect x="114.89" y="289.12" width="11.5" height="2.9" fill="#FF6347"/>
<rect x="114.89" y="292.28" width="11.5" height="1.23" fill="#4A2A10"/>
<rect x="114.89" y="293.86" width="11.5" height="2.11" fill="#C0FF3E"/>
<rect x="114.89" y="296.85" width="11.5" height="2.64" fill="#00E5EE"/>
<rect x="114.89" y="300.4" width="11.5" height="65.9" fill="#FFFF00"/>
<rect x="114.89" y="366.7" width="11.5" height="64.7" fill="#FF69B4"/>
<rect x="114.64" y="255.6" width="12" height="176" fill="none" stroke="#3a3a3a" stroke-width="0.7"/>
<rect x="127.95" y="255.6" width="12" height="176" fill="#101010"/>
<rect x="128.2" y="255.6" width="11.5" height="0.8" fill="#191970"/>
<rect x="128.2" y="259.04" width="11.5" height="1.32" fill="#4A2A10"/>
<rect x="128.2" y="260.36" width="11.5" height="2.02" fill="#208080"/>
<rect x="128.2" y="262.73" width="11.5" height="1.58" fill="#BC6F5F"/>
<rect x="128.2" y="264.75" width="11.5" height="3.25" fill="#FF0000"/>
<rect x="128.2" y="269.15" width="11.5" height="1.76" fill="#D2B48C"/>
<rect x="128.2" y="271.09" width="11.5" height="2.46" fill="#2F4F4F"/>
<rect x="128.2" y="273.81" width="11.5" height="2.37" fill="#B22222"/>
<rect x="128.2" y="277.07" width="11.5" height="4.4" fill="#FFFACD"/>
<rect x="128.2" y="282.52" width="11.5" height="1.58" fill="#D3D3D3"/>
<rect x="128.2" y="284.81" width="11.5" height="2.81" fill="#00CED1"/>
<rect x="128.2" y="288.32" width="11.5" height="7.92" fill="#EE82EE"/>
<rect x="128.2" y="297.12" width="11.5" height="7.39" fill="#006400"/>
<rect x="128.2" y="304.77" width="11.5" height="3.08" fill="#F08080"/>
<rect x="128.2" y="308.9" width="11.5" height="8.62" fill="#FF4500"/>
<rect x="128.2" y="318.14" width="11.5" height="2.9" fill="#FFE4A0"/>
<rect x="128.2" y="321.7" width="11.5" height="4.3" fill="#8A2BE2"/>
<rect x="128.2" y="327.6" width="11.5" height="4.9" fill="#96E6F0"/>
<rect x="128.2" y="333.6" width="11.5" height="3.5" fill="#108B8B"/>
<rect x="128.2" y="338.7" width="11.5" height="5.2" fill="#E066FF"/>
<rect x="128.2" y="344.8" width="11.5" height="6.1" fill="#C0FF3E"/>
<rect x="128.2" y="351.8" width="11.5" height="15.4" fill="#00E5EE"/>
<rect x="128.2" y="368" width="11.5" height="19.2" fill="#FFFF00"/>
<rect x="128.2" y="387.8" width="11.5" height="43.6" fill="#FF69B4"/>
<rect x="127.95" y="255.6" width="12" height="176" fill="none" stroke="#3a3a3a" stroke-width="0.7"/>
<rect x="141.26" y="255.6" width="12" height="176" fill="#101010"/>
<rect x="141.51" y="255.6" width="11.5" height="0.8" fill="#191970"/>
<rect x="141.51" y="256.4" width="11.5" height="2.2" fill="#1F1F7A"/>
<rect x="141.51" y="258.86" width="11.5" height="1.23" fill="#4A2A10"/>
<rect x="141.51" y="260.53" width="11.5" height="2.46" fill="#5D478B"/>
<rect x="141.51" y="264.05" width="11.5" height="0.88" fill="#5A6A5A"/>
<rect x="141.51" y="268.27" width="11.5" height="1.32" fill="#101040"/>
<rect x="141.51" y="270.03" width="11.5" height="7.04" fill="#6B8E23"/>
<rect x="141.51" y="277.86" width="11.5" height="2.11" fill="#E07800"/>
<rect x="141.51" y="283.66" width="11.5" height="0.53" fill="#6A3A10"/>
<rect x="141.51" y="284.54" width="11.5" height="4.4" fill="#FF8C00"/>
<rect x="141.51" y="289.99" width="11.5" height="3.34" fill="#8A2BE2"/>
<rect x="141.51" y="293.51" width="11.5" height="1.14" fill="#4A1A6A"/>
<rect x="141.51" y="294.92" width="11.5" height="5.01" fill="#00FF00"/>
<rect x="141.51" y="300.2" width="11.5" height="2.37" fill="#1A5A5A"/>
<rect x="141.51" y="303.01" width="11.5" height="3.08" fill="#FF6347"/>
<rect x="141.51" y="307.41" width="11.5" height="6.6" fill="#C0FF3E"/>
<rect x="141.51" y="314.45" width="11.5" height="1.76" fill="#108B8B"/>
<rect x="141.51" y="316.9" width="11.5" height="38" fill="#FFFF00"/>
<rect x="141.51" y="355.3" width="11.5" height="76.1" fill="#FF69B4"/>
<rect x="141.26" y="255.6" width="12" height="176" fill="none" stroke="#3a3a3a" stroke-width="0.7"/>
<rect x="154.57" y="255.6" width="12" height="176" fill="#101010"/>
<rect x="154.82" y="255.6" width="11.5" height="0.8" fill="#191970"/>
<rect x="154.82" y="256.4" width="11.5" height="2.2" fill="#14144A"/>
<rect x="154.82" y="260.09" width="11.5" height="0.88" fill="#4A2A10"/>
<rect x="154.82" y="265.02" width="11.5" height="1.5" fill="#4A2010"/>
<rect x="154.82" y="266.78" width="11.5" height="1.93" fill="#8B2323"/>
<rect x="154.82" y="268.97" width="11.5" height="1.5" fill="#A09080"/>
<rect x="154.82" y="270.65" width="11.5" height="2.46" fill="#5F9EA0"/>
<rect x="154.82" y="273.99" width="11.5" height="1.93" fill="#CD5C5C"/>
<rect x="154.82" y="276.1" width="11.5" height="1.41" fill="#000080"/>
<rect x="154.82" y="277.68" width="11.5" height="1.58" fill="#FF8C00"/>
<rect x="154.82" y="279.97" width="11.5" height="1.5" fill="#FF4500"/>
<rect x="154.82" y="281.64" width="11.5" height="1.58" fill="#D2B48C"/>
<rect x="154.82" y="283.93" width="11.5" height="2.55" fill="#9932CC"/>
<rect x="154.82" y="286.74" width="11.5" height="2.9" fill="#D02090"/>
<rect x="154.82" y="290.35" width="11.5" height="2.11" fill="#00CD00"/>
<rect x="154.82" y="292.72" width="11.5" height="2.37" fill="#AFEEEE"/>
<rect x="154.82" y="295.36" width="11.5" height="9.85" fill="#108B8B"/>
<rect x="154.82" y="305.91" width="11.5" height="1.32" fill="#FF6347"/>
<rect x="154.82" y="307.41" width="11.5" height="1.76" fill="#B03090"/>
<rect x="154.82" y="309.61" width="11.5" height="9.41" fill="#C0FF3E"/>
<rect x="154.82" y="319.9" width="11.5" height="8.3" fill="#00E5EE"/>
<rect x="154.82" y="328.9" width="11.5" height="32.2" fill="#FFFF00"/>
<rect x="154.82" y="361.5" width="11.5" height="69.9" fill="#FF69B4"/>
<rect x="154.57" y="255.6" width="12" height="176" fill="none" stroke="#3a3a3a" stroke-width="0.7"/>
<rect x="167.88" y="255.6" width="12" height="176" fill="#101010"/>
<rect x="168.13" y="255.6" width="11.5" height="0.8" fill="#191970"/>
<rect x="168.13" y="262.82" width="11.5" height="3.25" fill="#8B2500"/>
<rect x="168.13" y="266.51" width="11.5" height="1.76" fill="#0A0A3A"/>
<rect x="168.13" y="268.45" width="11.5" height="4.22" fill="#0000A0"/>
<rect x="168.13" y="272.84" width="11.5" height="1.85" fill="#0000CD"/>
<rect x="168.13" y="275.04" width="11.5" height="1.58" fill="#E09030"/>
<rect x="168.13" y="276.8" width="11.5" height="2.29" fill="#B8860B"/>
<rect x="168.13" y="280.14" width="11.5" height="2.02" fill="#7D26CD"/>
<rect x="168.13" y="282.34" width="11.5" height="1.76" fill="#C71585"/>
<rect x="168.13" y="284.28" width="11.5" height="1.14" fill="#0A3A1A"/>
<rect x="168.13" y="285.69" width="11.5" height="3.25" fill="#96E6F0"/>
<rect x="168.13" y="289.2" width="11.5" height="1.93" fill="#108B8B"/>
<rect x="168.13" y="292.02" width="11.5" height="4.66" fill="#FF6347"/>
<rect x="168.13" y="297.73" width="11.5" height="8.09" fill="#E066FF"/>
<rect x="168.13" y="306.9" width="11.5" height="23.9" fill="#C0FF3E"/>
<rect x="168.13" y="332.1" width="11.5" height="3.1" fill="#00E5EE"/>
<rect x="168.13" y="336.2" width="11.5" height="50.8" fill="#FFFF00"/>
<rect x="168.13" y="387.5" width="11.5" height="43.9" fill="#FF69B4"/>
<rect x="167.88" y="255.6" width="12" height="176" fill="none" stroke="#3a3a3a" stroke-width="0.7"/>
<rect x="181.19" y="255.6" width="12" height="176" fill="#101010"/>
<rect x="181.44" y="255.6" width="11.5" height="1.24" fill="#191970"/>
<rect x="181.44" y="257.01" width="11.5" height="1.58" fill="#808080"/>
<rect x="181.44" y="258.86" width="11.5" height="3.52" fill="#B07070"/>
<rect x="181.44" y="263.7" width="11.5" height="1.5" fill="#3CB371"/>
<rect x="181.44" y="266.07" width="11.5" height="2.2" fill="#2A1A0A"/>
<rect x="181.44" y="268.89" width="11.5" height="1.14" fill="#808080"/>
<rect x="181.44" y="270.21" width="11.5" height="10.64" fill="#0000A0"/>
<rect x="181.44" y="281.02" width="11.5" height="2.2" fill="#BC7070"/>
<rect x="181.44" y="283.93" width="11.5" height="5.45" fill="#E0B000"/>
<rect x="181.44" y="289.55" width="11.5" height="1.14" fill="#4A2A10"/>
<rect x="181.44" y="290.87" width="11.5" height="1.41" fill="#D2B48C"/>
<rect x="181.44" y="293.6" width="11.5" height="7.48" fill="#00E600"/>
<rect x="181.44" y="301.96" width="11.5" height="2.37" fill="#AFEEEE"/>
<rect x="181.44" y="304.51" width="11.5" height="2.02" fill="#1A6060"/>
<rect x="181.44" y="306.79" width="11.5" height="3.69" fill="#FF6347"/>
<rect x="181.44" y="311.4" width="11.5" height="14.1" fill="#E066FF"/>
<rect x="181.44" y="326.5" width="11.5" height="5.4" fill="#C0FF3E"/>
<rect x="181.44" y="333" width="11.5" height="28.3" fill="#00E5EE"/>
<rect x="181.44" y="362.4" width="11.5" height="41.8" fill="#FFFF00"/>
<rect x="181.44" y="404.6" width="11.5" height="26.8" fill="#FF69B4"/>
<rect x="181.19" y="255.6" width="12" height="176" fill="none" stroke="#3a3a3a" stroke-width="0.7"/>
<rect x="194.5" y="255.6" width="12" height="176" fill="#101010"/>
<rect x="194.75" y="258.86" width="11.5" height="1.93" fill="#3B4A1E"/>
<rect x="194.75" y="261.85" width="11.5" height="2.46" fill="#1C3030"/>
<rect x="194.75" y="265.19" width="11.5" height="2.64" fill="#B00000"/>
<rect x="194.75" y="268.01" width="11.5" height="2.46" fill="#403030"/>
<rect x="194.75" y="270.91" width="11.5" height="1.5" fill="#B0C4DE"/>
<rect x="194.75" y="272.58" width="11.5" height="1.41" fill="#1A5A5A"/>
<rect x="194.75" y="274.16" width="11.5" height="3.34" fill="#000080"/>
<rect x="194.75" y="277.86" width="11.5" height="3.34" fill="#0000FF"/>
<rect x="194.75" y="281.9" width="11.5" height="1.76" fill="#A0400A"/>
<rect x="194.75" y="283.84" width="11.5" height="1.41" fill="#FFFACD"/>
<rect x="194.75" y="285.86" width="11.5" height="1.32" fill="#8A2BE2"/>
<rect x="194.75" y="287.36" width="11.5" height="1.14" fill="#8B1A6A"/>
<rect x="194.75" y="288.76" width="11.5" height="1.93" fill="#1DB31D"/>
<rect x="194.75" y="290.96" width="11.5" height="2.2" fill="#AFEEEE"/>
<rect x="194.75" y="293.51" width="11.5" height="5.54" fill="#108B8B"/>
<rect x="194.75" y="299.93" width="11.5" height="1.76" fill="#FF6347"/>
<rect x="194.75" y="302.4" width="11.5" height="3.08" fill="#E066FF"/>
<rect x="194.75" y="306.27" width="11.5" height="3.78" fill="#C0FF3E"/>
<rect x="194.75" y="310.31" width="11.5" height="1.93" fill="#20B2AA"/>
<rect x="194.75" y="312.9" width="11.5" height="59.4" fill="#FFFF00"/>
<rect x="194.75" y="373" width="11.5" height="58.4" fill="#FF69B4"/>
<rect x="194.5" y="255.6" width="12" height="176" fill="none" stroke="#3a3a3a" stroke-width="0.7"/>
<rect x="207.81" y="255.6" width="12" height="176" fill="#101010"/>
<rect x="208.06" y="255.6" width="11.5" height="0.8" fill="#191970"/>
<rect x="208.06" y="256.4" width="11.5" height="2.81" fill="#1A1A80"/>
<rect x="208.06" y="259.48" width="11.5" height="3.08" fill="#A000A0"/>
<rect x="208.06" y="264.49" width="11.5" height="3.78" fill="#1C3030"/>
<rect x="208.06" y="269.77" width="11.5" height="1.41" fill="#A09080"/>
<rect x="208.06" y="272.84" width="11.5" height="1.14" fill="#1A5A5A"/>
<rect x="208.06" y="274.16" width="11.5" height="2.46" fill="#00008B"/>
<rect x="208.06" y="276.89" width="11.5" height="1.5" fill="#E08020"/>
<rect x="208.06" y="279.26" width="11.5" height="2.64" fill="#FFEC8B"/>
<rect x="208.06" y="282.78" width="11.5" height="2.46" fill="#9B30FF"/>
<rect x="208.06" y="285.95" width="11.5" height="2.29" fill="#C71585"/>
<rect x="208.06" y="288.5" width="11.5" height="0.88" fill="#0A4A1A"/>
<rect x="208.06" y="289.64" width="11.5" height="1.5" fill="#5F9EA0"/>
<rect x="208.06" y="291.31" width="11.5" height="2.2" fill="#6B3030"/>
<rect x="208.06" y="294.22" width="11.5" height="3.69" fill="#C0FF3E"/>
<rect x="208.06" y="299.5" width="11.5" height="78.9" fill="#FFFF00"/>
<rect x="208.06" y="379.1" width="11.5" height="52.3" fill="#FF69B4"/>
<rect x="207.81" y="255.6" width="12" height="176" fill="none" stroke="#3a3a3a" stroke-width="0.7"/>
<rect x="221.12" y="255.6" width="12" height="176" fill="#101010"/>
<rect x="221.37" y="255.6" width="11.5" height="0.8" fill="#191970"/>
<rect x="221.37" y="256.4" width="11.5" height="2.64" fill="#1A1A70"/>
<rect x="221.37" y="259.48" width="11.5" height="3.08" fill="#3A3A30"/>
<rect x="221.37" y="264.58" width="11.5" height="1.5" fill="#E0D8C8"/>
<rect x="221.37" y="266.78" width="11.5" height="1.5" fill="#B040B0"/>
<rect x="221.37" y="271.96" width="11.5" height="1.58" fill="#20A0B0"/>
<rect x="221.37" y="273.99" width="11.5" height="1.76" fill="#2A1A10"/>
<rect x="221.37" y="276.45" width="11.5" height="1.93" fill="#FF8C00"/>
<rect x="221.37" y="279.26" width="11.5" height="2.64" fill="#D2501A"/>
<rect x="221.37" y="282.08" width="11.5" height="1.14" fill="#8B4A1A"/>
<rect x="221.37" y="283.93" width="11.5" height="3.25" fill="#9B30FF"/>
<rect x="221.37" y="288.06" width="11.5" height="4.4" fill="#D02090"/>
<rect x="221.37" y="292.63" width="11.5" height="2.02" fill="#006400"/>
<rect x="221.37" y="294.83" width="11.5" height="1.58" fill="#108B8B"/>
<rect x="221.37" y="297.12" width="11.5" height="2.81" fill="#FF6347"/>
<rect x="221.37" y="300.99" width="11.5" height="6.42" fill="#C0FF3E"/>
<rect x="221.37" y="308.9" width="11.5" height="24.2" fill="#00E5EE"/>
<rect x="221.37" y="334.4" width="11.5" height="51" fill="#FFFF00"/>
<rect x="221.37" y="386.2" width="11.5" height="45.2" fill="#FF69B4"/>
<rect x="221.12" y="255.6" width="12" height="176" fill="none" stroke="#3a3a3a" stroke-width="0.7"/>
<rect x="234.43" y="255.6" width="12" height="176" fill="#101010"/>
<rect x="234.68" y="255.6" width="11.5" height="0.8" fill="#191970"/>
<rect x="234.68" y="256.4" width="11.5" height="1.32" fill="#1A1A70"/>
<rect x="234.68" y="257.89" width="11.5" height="1.32" fill="#20A0A0"/>
<rect x="234.68" y="260.09" width="11.5" height="2.02" fill="#80A020"/>
<rect x="234.68" y="262.99" width="11.5" height="1.32" fill="#2E8B57"/>
<rect x="234.68" y="266.25" width="11.5" height="2.02" fill="#2F4F4F"/>
<rect x="234.68" y="268.97" width="11.5" height="1.67" fill="#C8C8C0"/>
<rect x="234.68" y="271.53" width="11.5" height="1.14" fill="#602080"/>
<rect x="234.68" y="273.37" width="11.5" height="5.45" fill="#006400"/>
<rect x="234.68" y="279.09" width="11.5" height="2.81" fill="#000040"/>
<rect x="234.68" y="282.17" width="11.5" height="1.93" fill="#D0A000"/>
<rect x="234.68" y="284.81" width="11.5" height="5.19" fill="#FF4500"/>
<rect x="234.68" y="290.87" width="11.5" height="2.29" fill="#FFEC8B"/>
<rect x="234.68" y="293.86" width="11.5" height="1.93" fill="#7D26CD"/>
<rect x="234.68" y="295.98" width="11.5" height="2.2" fill="#C71585"/>
<rect x="234.68" y="299.05" width="11.5" height="6.42" fill="#00E600"/>
<rect x="234.68" y="306.71" width="11.5" height="8.18" fill="#96E6F0"/>
<rect x="234.68" y="315.15" width="11.5" height="1.93" fill="#1A5A5A"/>
<rect x="234.68" y="317.52" width="11.5" height="2.37" fill="#FF6347"/>
<rect x="234.68" y="320.7" width="11.5" height="4.1" fill="#E066FF"/>
<rect x="234.68" y="326" width="11.5" height="1.4" fill="#C0FF3E"/>
<rect x="234.68" y="328.7" width="11.5" height="10.1" fill="#00E5EE"/>
<rect x="234.68" y="340.1" width="11.5" height="35.8" fill="#FFFF00"/>
<rect x="234.68" y="376.6" width="11.5" height="54.8" fill="#FF69B4"/>
<rect x="234.43" y="255.6" width="12" height="176" fill="none" stroke="#3a3a3a" stroke-width="0.7"/>
<rect x="247.74" y="255.6" width="12" height="176" fill="#101010"/>
<rect x="247.99" y="255.6" width="11.5" height="0.8" fill="#191970"/>
<rect x="247.99" y="256.4" width="11.5" height="3.52" fill="#1A1A70"/>
<rect x="247.99" y="260.8" width="11.5" height="2.2" fill="#2A3A10"/>
<rect x="247.99" y="265.19" width="11.5" height="2.64" fill="#400000"/>
<rect x="247.99" y="271.79" width="11.5" height="3.52" fill="#FF8C00"/>
<rect x="247.99" y="275.31" width="11.5" height="3.08" fill="#A06A10"/>
<rect x="247.99" y="279.09" width="11.5" height="1.5" fill="#FFEC8B"/>
<rect x="247.99" y="281.29" width="11.5" height="2.55" fill="#9B30FF"/>
<rect x="247.99" y="284.72" width="11.5" height="5.54" fill="#D02090"/>
<rect x="247.99" y="290.96" width="11.5" height="2.2" fill="#00CD00"/>
<rect x="247.99" y="294.04" width="11.5" height="2.81" fill="#FF6347"/>
<rect x="247.99" y="297.73" width="11.5" height="1.58" fill="#E066FF"/>
<rect x="247.99" y="300.11" width="11.5" height="11.7" fill="#C0FF3E"/>
<rect x="247.99" y="312.07" width="11.5" height="1.06" fill="#0A4A1A"/>
<rect x="247.99" y="313.7" width="11.5" height="68.3" fill="#FFFF00"/>
<rect x="247.99" y="382.6" width="11.5" height="48.8" fill="#FF69B4"/>
<rect x="247.74" y="255.6" width="12" height="176" fill="none" stroke="#3a3a3a" stroke-width="0.7"/>
<rect x="261.05" y="255.6" width="12" height="176" fill="#101010"/>
<rect x="261.3" y="255.6" width="11.5" height="0.8" fill="#191970"/>
<rect x="261.3" y="256.4" width="11.5" height="2.2" fill="#1A1A70"/>
<rect x="261.3" y="258.77" width="11.5" height="1.32" fill="#505050"/>
<rect x="261.3" y="260.27" width="11.5" height="3.17" fill="#0A2A1A"/>
<rect x="261.3" y="263.61" width="11.5" height="1.58" fill="#301030"/>
<rect x="261.3" y="266.25" width="11.5" height="3.78" fill="#8B0000"/>
<rect x="261.3" y="270.91" width="11.5" height="3.96" fill="#A09080"/>
<rect x="261.3" y="275.31" width="11.5" height="3.08" fill="#2A0A0A"/>
<rect x="261.3" y="278.56" width="11.5" height="0.7" fill="#000050"/>
<rect x="261.3" y="279.44" width="11.5" height="4.66" fill="#0000FF"/>
<rect x="261.3" y="284.28" width="11.5" height="1.14" fill="#3A2010"/>
<rect x="261.3" y="285.69" width="11.5" height="6.33" fill="#D4A800"/>
<rect x="261.3" y="293.07" width="11.5" height="3.34" fill="#FFEC8B"/>
<rect x="261.3" y="297.12" width="11.5" height="2.2" fill="#7D26CD"/>
<rect x="261.3" y="299.93" width="11.5" height="4.4" fill="#C71585"/>
<rect x="261.3" y="305.21" width="11.5" height="3.52" fill="#00E600"/>
<rect x="261.3" y="310.05" width="11.5" height="7.04" fill="#FF6347"/>
<rect x="261.3" y="317.96" width="11.5" height="3.08" fill="#E066FF"/>
<rect x="261.3" y="322.1" width="11.5" height="2.7" fill="#C0FF3E"/>
<rect x="261.3" y="326" width="11.5" height="1.4" fill="#00E5EE"/>
<rect x="261.3" y="328.2" width="11.5" height="33" fill="#FFFF00"/>
<rect x="261.3" y="362.1" width="11.5" height="69.3" fill="#FF69B4"/>
<rect x="261.05" y="255.6" width="12" height="176" fill="none" stroke="#3a3a3a" stroke-width="0.7"/>
<text x="58.9" y="433.2" font-family="'Liberation Sans', sans-serif" font-size="4.6" fill="#333" text-anchor="end" font-weight="normal">0.00</text>
<line x1="59.8" y1="431.6" x2="61" y2="431.6" stroke="#333" stroke-width="0.4"/>
<text x="58.9" y="389.2" font-family="'Liberation Sans', sans-serif" font-size="4.6" fill="#333" text-anchor="end" font-weight="normal">0.25</text>
<line x1="59.8" y1="387.6" x2="61" y2="387.6" stroke="#333" stroke-width="0.4"/>
<text x="58.9" y="345.2" font-family="'Liberation Sans', sans-serif" font-size="4.6" fill="#333" text-anchor="end" font-weight="normal">0.50</text>
<line x1="59.8" y1="343.6" x2="61" y2="343.6" stroke="#333" stroke-width="0.4"/>
<text x="58.9" y="301.2" font-family="'Liberation Sans', sans-serif" font-size="4.6" fill="#333" text-anchor="end" font-weight="normal">0.75</text>
<line x1="59.8" y1="299.6" x2="61" y2="299.6" stroke="#333" stroke-width="0.4"/>
<text x="58.9" y="257.2" font-family="'Liberation Sans', sans-serif" font-size="4.6" fill="#333" text-anchor="end" font-weight="normal">1.00</text>
<line x1="59.8" y1="255.6" x2="61" y2="255.6" stroke="#333" stroke-width="0.4"/>
<line x1="67.4" y1="431.6" x2="67.4" y2="433" stroke="#333" stroke-width="0.4"/>
<text x="68.2" y="439" font-family="'Liberation Serif', serif" font-size="5.3" fill="#222" text-anchor="end" font-weight="normal" transform="rotate(-45 68.2 439)">FMT<tspan font-size="3.2" dy="0.8">1</tspan></text>
<line x1="80.71" y1="431.6" x2="80.71" y2="433" stroke="#333" stroke-width="0.4"/>
<text x="81.51" y="439" font-family="'Liberation Serif', serif" font-size="5.3" fill="#222" text-anchor="end" font-weight="normal" transform="rotate(-45 81.51 439)">FMT<tspan font-size="3.2" dy="0.8">2</tspan></text>
<line x1="94.02" y1="431.6" x2="94.02" y2="433" stroke="#333" stroke-width="0.4"/>
<text x="94.82" y="439" font-family="'Liberation Serif', serif" font-size="5.3" fill="#222" text-anchor="end" font-weight="normal" transform="rotate(-45 94.82 439)">FMT<tspan font-size="3.2" dy="0.8">3</tspan></text>
<line x1="107.33" y1="431.6" x2="107.33" y2="433" stroke="#333" stroke-width="0.4"/>
<text x="108.13" y="439" font-family="'Liberation Serif', serif" font-size="5.3" fill="#222" text-anchor="end" font-weight="normal" transform="rotate(-45 108.13 439)">FMT<tspan font-size="3.2" dy="0.8">4</tspan></text>
<line x1="120.64" y1="431.6" x2="120.64" y2="433" stroke="#333" stroke-width="0.4"/>
<text x="121.44" y="439" font-family="'Liberation Serif', serif" font-size="5.3" fill="#222" text-anchor="end" font-weight="normal" transform="rotate(-45 121.44 439)">FMT<tspan font-size="3.2" dy="0.8">5</tspan></text>
<line x1="133.95" y1="431.6" x2="133.95" y2="433" stroke="#333" stroke-width="0.4"/>
<text x="134.75" y="439" font-family="'Liberation Serif', serif" font-size="5.3" fill="#222" text-anchor="end" font-weight="normal" transform="rotate(-45 134.75 439)">FMT<tspan font-size="3.2" dy="0.8">6</tspan></text>
<line x1="147.26" y1="431.6" x2="147.26" y2="433" stroke="#333" stroke-width="0.4"/>
<text x="148.06" y="439" font-family="'Liberation Serif', serif" font-size="5.3" fill="#222" text-anchor="end" font-weight="normal" transform="rotate(-45 148.06 439)">FMT<tspan font-size="3.2" dy="0.8">7</tspan></text>
<line x1="160.57" y1="431.6" x2="160.57" y2="433" stroke="#333" stroke-width="0.4"/>
<text x="161.37" y="439" font-family="'Liberation Serif', serif" font-size="5.3" fill="#222" text-anchor="end" font-weight="normal" transform="rotate(-45 161.37 439)">FMT<tspan font-size="3.2" dy="0.8">8</tspan></text>
<line x1="173.88" y1="431.6" x2="173.88" y2="433" stroke="#333" stroke-width="0.4"/>
<text x="174.68" y="439" font-family="'Liberation Serif', serif" font-size="5.3" fill="#222" text-anchor="end" font-weight="normal" transform="rotate(-45 174.68 439)">CON<tspan font-size="3.2" dy="0.8">1</tspan></text>
<line x1="187.19" y1="431.6" x2="187.19" y2="433" stroke="#333" stroke-width="0.4"/>
<text x="187.99" y="439" font-family="'Liberation Serif', serif" font-size="5.3" fill="#222" text-anchor="end" font-weight="normal" transform="rotate(-45 187.99 439)">CON<tspan font-size="3.2" dy="0.8">2</tspan></text>
<line x1="200.5" y1="431.6" x2="200.5" y2="433" stroke="#333" stroke-width="0.4"/>
<text x="201.3" y="439" font-family="'Liberation Serif', serif" font-size="5.3" fill="#222" text-anchor="end" font-weight="normal" transform="rotate(-45 201.3 439)">CON<tspan font-size="3.2" dy="0.8">3</tspan></text>
<line x1="213.81" y1="431.6" x2="213.81" y2="433" stroke="#333" stroke-width="0.4"/>
<text x="214.61" y="439" font-family="'Liberation Serif', serif" font-size="5.3" fill="#222" text-anchor="end" font-weight="normal" transform="rotate(-45 214.61 439)">CON<tspan font-size="3.2" dy="0.8">4</tspan></text>
<line x1="227.12" y1="431.6" x2="227.12" y2="433" stroke="#333" stroke-width="0.4"/>
<text x="227.92" y="439" font-family="'Liberation Serif', serif" font-size="5.3" fill="#222" text-anchor="end" font-weight="normal" transform="rotate(-45 227.92 439)">CON<tspan font-size="3.2" dy="0.8">5</tspan></text>
<line x1="240.43" y1="431.6" x2="240.43" y2="433" stroke="#333" stroke-width="0.4"/>
<text x="241.23" y="439" font-family="'Liberation Serif', serif" font-size="5.3" fill="#222" text-anchor="end" font-weight="normal" transform="rotate(-45 241.23 439)">CON<tspan font-size="3.2" dy="0.8">6</tspan></text>
<line x1="253.74" y1="431.6" x2="253.74" y2="433" stroke="#333" stroke-width="0.4"/>
<text x="254.54" y="439" font-family="'Liberation Serif', serif" font-size="5.3" fill="#222" text-anchor="end" font-weight="normal" transform="rotate(-45 254.54 439)">CON<tspan font-size="3.2" dy="0.8">7</tspan></text>
<line x1="267.05" y1="431.6" x2="267.05" y2="433" stroke="#333" stroke-width="0.4"/>
<text x="267.85" y="439" font-family="'Liberation Serif', serif" font-size="5.3" fill="#222" text-anchor="end" font-weight="normal" transform="rotate(-45 267.85 439)">CON<tspan font-size="3.2" dy="0.8">8</tspan></text>
<text x="167" y="251" font-family="'Liberation Sans', sans-serif" font-size="6.9" fill="#111" text-anchor="middle" font-weight="normal">genus</text>
<text x="45.6" y="343.5" font-family="'Liberation Sans', sans-serif" font-size="5.8" fill="#111" text-anchor="middle" font-weight="normal" transform="rotate(-90 45.6 343.5)">Abundance</text>
<rect x="282.9" y="262.1" width="5.8" height="5.8" fill="#191970"/>
<text x="292.2" y="266.6" font-family="'Liberation Sans', sans-serif" font-size="4.55" fill="#222" text-anchor="start" font-weight="normal">Others(&lt;0.5%)</text>
<rect x="282.9" y="268.53" width="5.8" height="5.8" fill="#8B4513"/>
<text x="292.2" y="273.03" font-family="'Liberation Sans', sans-serif" font-size="4.55" fill="#222" text-anchor="start" font-weight="normal">Anaerosporobacter</text>
<rect x="282.9" y="274.96" width="5.8" height="5.8" fill="#551A8B"/>
<text x="292.2" y="279.46" font-family="'Liberation Sans', sans-serif" font-size="4.55" fill="#222" text-anchor="start" font-weight="normal">Lactobacillus</text>
<rect x="282.9" y="281.39" width="5.8" height="5.8" fill="#8B008B"/>
<text x="292.2" y="285.89" font-family="'Liberation Sans', sans-serif" font-size="4.55" fill="#222" text-anchor="start" font-weight="normal">Corynebacterium</text>
<rect x="282.9" y="287.82" width="5.8" height="5.8" fill="#E9967A"/>
<text x="292.2" y="292.32" font-family="'Liberation Sans', sans-serif" font-size="4.55" fill="#222" text-anchor="start" font-weight="normal">Bifidobacterium</text>
<rect x="282.9" y="294.25" width="5.8" height="5.8" fill="#FFA54F"/>
<text x="292.2" y="298.75" font-family="'Liberation Sans', sans-serif" font-size="4.55" fill="#222" text-anchor="start" font-weight="normal">Streptococcus</text>
<rect x="282.9" y="300.68" width="5.8" height="5.8" fill="#5D478B"/>
<text x="292.2" y="305.18" font-family="'Liberation Sans', sans-serif" font-size="4.55" fill="#222" text-anchor="start" font-weight="normal">Dialister</text>
<rect x="282.9" y="307.11" width="5.8" height="5.8" fill="#90EE90"/>
<text x="292.2" y="311.61" font-family="'Liberation Sans', sans-serif" font-size="4.55" fill="#222" text-anchor="start" font-weight="normal">Ruminococcus</text>
<rect x="282.9" y="313.54" width="5.8" height="5.8" fill="#EEEEEE"/>
<text x="292.2" y="318.04" font-family="'Liberation Sans', sans-serif" font-size="4.55" fill="#222" text-anchor="start" font-weight="normal">Slackia</text>
<rect x="282.9" y="319.97" width="5.8" height="5.8" fill="#00E5EE"/>
<text x="292.2" y="324.47" font-family="'Liberation Sans', sans-serif" font-size="4.55" fill="#222" text-anchor="start" font-weight="normal">Tyzzerella</text>
<rect x="282.9" y="326.4" width="5.8" height="5.8" fill="#808080"/>
<text x="292.2" y="330.9" font-family="'Liberation Sans', sans-serif" font-size="4.55" fill="#222" text-anchor="start" font-weight="normal">Enorma</text>
<rect x="282.9" y="332.83" width="5.8" height="5.8" fill="#EE1289"/>
<text x="292.2" y="337.33" font-family="'Liberation Sans', sans-serif" font-size="4.55" fill="#222" text-anchor="start" font-weight="normal">Blautia</text>
<rect x="282.9" y="339.26" width="5.8" height="5.8" fill="#8B5F65"/>
<text x="292.2" y="343.76" font-family="'Liberation Sans', sans-serif" font-size="4.55" fill="#222" text-anchor="start" font-weight="normal">Helicobacter</text>
<rect x="282.9" y="345.69" width="5.8" height="5.8" fill="#EEDC82"/>
<text x="292.2" y="350.19" font-family="'Liberation Sans', sans-serif" font-size="4.55" fill="#222" text-anchor="start" font-weight="normal">Enterococcus</text>
<rect x="282.9" y="352.12" width="5.8" height="5.8" fill="#556B2F"/>
<text x="292.2" y="356.62" font-family="'Liberation Sans', sans-serif" font-size="4.55" fill="#222" text-anchor="start" font-weight="normal">Shuttleworthia</text>
<rect x="282.9" y="358.55" width="5.8" height="5.8" fill="#FF0000"/>
<text x="292.2" y="363.05" font-family="'Liberation Sans', sans-serif" font-size="4.55" fill="#222" text-anchor="start" font-weight="normal">Escherichia</text>
<rect x="282.9" y="364.98" width="5.8" height="5.8" fill="#9ACD32"/>
<text x="292.2" y="369.48" font-family="'Liberation Sans', sans-serif" font-size="4.55" fill="#222" text-anchor="start" font-weight="normal">Anaerobiospirillum</text>
<rect x="282.9" y="371.41" width="5.8" height="5.8" fill="#8B6914"/>
<text x="292.2" y="375.91" font-family="'Liberation Sans', sans-serif" font-size="4.55" fill="#222" text-anchor="start" font-weight="normal">Butyricimonas</text>
<rect x="282.9" y="377.84" width="5.8" height="5.8" fill="#00CD66"/>
<text x="292.2" y="382.34" font-family="'Liberation Sans', sans-serif" font-size="4.55" fill="#222" text-anchor="start" font-weight="normal">Sutterella</text>
<rect x="282.9" y="384.27" width="5.8" height="5.8" fill="#F5DEB3"/>
<text x="292.2" y="388.77" font-family="'Liberation Sans', sans-serif" font-size="4.55" fill="#222" text-anchor="start" font-weight="normal">Romboutsia</text>
<rect x="282.9" y="390.7" width="5.8" height="5.8" fill="#104E8B"/>
<text x="292.2" y="395.2" font-family="'Liberation Sans', sans-serif" font-size="4.55" fill="#222" text-anchor="start" font-weight="normal">Oscillibacter</text>
<rect x="282.9" y="397.13" width="5.8" height="5.8" fill="#8B4789"/>
<text x="292.2" y="401.63" font-family="'Liberation Sans', sans-serif" font-size="4.55" fill="#222" text-anchor="start" font-weight="normal">Barnesiella</text>
<rect x="282.9" y="403.56" width="5.8" height="5.8" fill="#6B8E23"/>
<text x="292.2" y="408.06" font-family="'Liberation Sans', sans-serif" font-size="4.55" fill="#222" text-anchor="start" font-weight="normal">Alloprevotella</text>
<rect x="282.9" y="409.99" width="5.8" height="5.8" fill="#CD6600"/>
<text x="292.2" y="414.49" font-family="'Liberation Sans', sans-serif" font-size="4.55" fill="#222" text-anchor="start" font-weight="normal">Olsenella</text>
<rect x="282.9" y="416.42" width="5.8" height="5.8" fill="#668B8B"/>
<text x="292.2" y="420.92" font-family="'Liberation Sans', sans-serif" font-size="4.55" fill="#222" text-anchor="start" font-weight="normal">Peptococcus</text>
<rect x="282.9" y="422.85" width="5.8" height="5.8" fill="#8B0000"/>
<text x="292.2" y="427.35" font-family="'Liberation Sans', sans-serif" font-size="4.55" fill="#222" text-anchor="start" font-weight="normal">Treponema</text>
<rect x="334.3" y="262.1" width="5.8" height="5.8" fill="#8B7D6B"/>
<text x="343.4" y="266.6" font-family="'Liberation Sans', sans-serif" font-size="4.55" fill="#222" text-anchor="start" font-weight="normal">Caproiciproducens</text>
<rect x="334.3" y="268.53" width="5.8" height="5.8" fill="#CD2626"/>
<text x="343.4" y="273.03" font-family="'Liberation Sans', sans-serif" font-size="4.55" fill="#222" text-anchor="start" font-weight="normal">Pseudoflavonifractor</text>
<rect x="334.3" y="274.96" width="5.8" height="5.8" fill="#FFFACD"/>
<text x="343.4" y="279.46" font-family="'Liberation Sans', sans-serif" font-size="4.55" fill="#222" text-anchor="start" font-weight="normal">Faecalitalea</text>
<rect x="334.3" y="281.39" width="5.8" height="5.8" fill="#D3D3D3"/>
<text x="343.4" y="285.89" font-family="'Liberation Sans', sans-serif" font-size="4.55" fill="#222" text-anchor="start" font-weight="normal">Sellimonas</text>
<rect x="334.3" y="287.82" width="5.8" height="5.8" fill="#00CED1"/>
<text x="343.4" y="292.32" font-family="'Liberation Sans', sans-serif" font-size="4.55" fill="#222" text-anchor="start" font-weight="normal">Anaerofilum</text>
<rect x="334.3" y="294.25" width="5.8" height="5.8" fill="#EE82EE"/>
<text x="343.4" y="298.75" font-family="'Liberation Sans', sans-serif" font-size="4.55" fill="#222" text-anchor="start" font-weight="normal">Collinsella</text>
<rect x="334.3" y="300.68" width="5.8" height="5.8" fill="#006400"/>
<text x="343.4" y="305.18" font-family="'Liberation Sans', sans-serif" font-size="4.55" fill="#222" text-anchor="start" font-weight="normal">Peptoclostridium</text>
<rect x="334.3" y="307.11" width="5.8" height="5.8" fill="#00008B"/>
<text x="343.4" y="311.61" font-family="'Liberation Sans', sans-serif" font-size="4.55" fill="#222" text-anchor="start" font-weight="normal">Rikenella</text>
<rect x="334.3" y="313.54" width="5.8" height="5.8" fill="#F08080"/>
<text x="343.4" y="318.04" font-family="'Liberation Sans', sans-serif" font-size="4.55" fill="#222" text-anchor="start" font-weight="normal">Subdoligranulum</text>
<rect x="334.3" y="319.97" width="5.8" height="5.8" fill="#0000FF"/>
<text x="343.4" y="324.47" font-family="'Liberation Sans', sans-serif" font-size="4.55" fill="#222" text-anchor="start" font-weight="normal">Phascolarctobacterium</text>
<rect x="334.3" y="326.4" width="5.8" height="5.8" fill="#FF8C00"/>
<text x="343.4" y="330.9" font-family="'Liberation Sans', sans-serif" font-size="4.55" fill="#222" text-anchor="start" font-weight="normal">Lachnoclostridium</text>
<rect x="334.3" y="332.83" width="5.8" height="5.8" fill="#CDAD00"/>
<text x="343.4" y="337.33" font-family="'Liberation Sans', sans-serif" font-size="4.55" fill="#222" text-anchor="start" font-weight="normal">Mucispirillum</text>
<rect x="334.3" y="339.26" width="5.8" height="5.8" fill="#FF4500"/>
<text x="343.4" y="343.76" font-family="'Liberation Sans', sans-serif" font-size="4.55" fill="#222" text-anchor="start" font-weight="normal">Erysipelatoclostridium</text>
<rect x="334.3" y="345.69" width="5.8" height="5.8" fill="#FFEC8B"/>
<text x="343.4" y="350.19" font-family="'Liberation Sans', sans-serif" font-size="4.55" fill="#222" text-anchor="start" font-weight="normal">Ruminiclostridium</text>
<rect x="334.3" y="352.12" width="5.8" height="5.8" fill="#8A2BE2"/>
<text x="343.4" y="356.62" font-family="'Liberation Sans', sans-serif" font-size="4.55" fill="#222" text-anchor="start" font-weight="normal">Parabacteroides</text>
<rect x="334.3" y="358.55" width="5.8" height="5.8" fill="#C71585"/>
<text x="343.4" y="363.05" font-family="'Liberation Sans', sans-serif" font-size="4.55" fill="#222" text-anchor="start" font-weight="normal">Oscillospira</text>
<rect x="334.3" y="364.98" width="5.8" height="5.8" fill="#00FF00"/>
<text x="343.4" y="369.48" font-family="'Liberation Sans', sans-serif" font-size="4.55" fill="#222" text-anchor="start" font-weight="normal">Faecalibacterium</text>
<rect x="334.3" y="371.41" width="5.8" height="5.8" fill="#96E6F0"/>
<text x="343.4" y="375.91" font-family="'Liberation Sans', sans-serif" font-size="4.55" fill="#222" text-anchor="start" font-weight="normal">Butyricicoccus</text>
<rect x="334.3" y="377.84" width="5.8" height="5.8" fill="#008B8B"/>
<text x="343.4" y="382.34" font-family="'Liberation Sans', sans-serif" font-size="4.55" fill="#222" text-anchor="start" font-weight="normal">Megamonas</text>
<rect x="334.3" y="384.27" width="5.8" height="5.8" fill="#FF6347"/>
<text x="343.4" y="388.77" font-family="'Liberation Sans', sans-serif" font-size="4.55" fill="#222" text-anchor="start" font-weight="normal">Desulfovibrio</text>
<rect x="334.3" y="390.7" width="5.8" height="5.8" fill="#E066FF"/>
<text x="343.4" y="395.2" font-family="'Liberation Sans', sans-serif" font-size="4.55" fill="#222" text-anchor="start" font-weight="normal">Anaerotruncus</text>
<rect x="334.3" y="397.13" width="5.8" height="5.8" fill="#C0FF3E"/>
<text x="343.4" y="401.63" font-family="'Liberation Sans', sans-serif" font-size="4.55" fill="#222" text-anchor="start" font-weight="normal">Alistipes</text>
<rect x="334.3" y="403.56" width="5.8" height="5.8" fill="#00E5EE"/>
<text x="343.4" y="408.06" font-family="'Liberation Sans', sans-serif" font-size="4.55" fill="#222" text-anchor="start" font-weight="normal">Fusobacterium</text>
<rect x="334.3" y="409.99" width="5.8" height="5.8" fill="#FFFF00"/>
<text x="343.4" y="414.49" font-family="'Liberation Sans', sans-serif" font-size="4.55" fill="#222" text-anchor="start" font-weight="normal">Bacteroides</text>
<rect x="334.3" y="416.42" width="5.8" height="5.8" fill="#FF69B4"/>
<text x="343.4" y="420.92" font-family="'Liberation Sans', sans-serif" font-size="4.55" fill="#222" text-anchor="start" font-weight="normal">unclassified</text>
<rect x="415.3" y="277.6" width="75.5" height="138.8" fill="#101010"/>
<rect x="415.5" y="277.6" width="75.1" height="6.47" fill="#104E8B"/>
<rect x="415.5" y="284.78" width="75.1" height="2.64" fill="#3A2A10"/>
<rect x="415.5" y="287.41" width="75.1" height="1.06" fill="#5A1010"/>
<rect x="415.5" y="288.47" width="75.1" height="2.2" fill="#B0A080"/>
<rect x="415.5" y="290.67" width="75.1" height="1.32" fill="#2A8080"/>
<rect x="415.5" y="291.99" width="75.1" height="1.93" fill="#B060C0"/>
<rect x="415.5" y="293.92" width="75.1" height="1.58" fill="#2A4A10"/>
<rect x="415.5" y="295.51" width="75.1" height="1.32" fill="#C07070"/>
<rect x="415.5" y="296.82" width="75.1" height="1.14" fill="#4A0A0A"/>
<rect x="415.5" y="297.97" width="75.1" height="2.37" fill="#B04A10"/>
<rect x="415.5" y="300.34" width="75.1" height="0.62" fill="#8B1A1A"/>
<rect x="415.5" y="300.96" width="75.1" height="1.58" fill="#E0C080"/>
<rect x="415.5" y="302.72" width="75.1" height="2.9" fill="#7A1AB0"/>
<rect x="415.5" y="306.24" width="75.1" height="1.58" fill="#1A9A3A"/>
<rect x="415.5" y="307.99" width="75.1" height="2.02" fill="#96E6F0"/>
<rect x="415.5" y="310.28" width="75.1" height="3.69" fill="#108B8B"/>
<rect x="415.5" y="314.68" width="75.1" height="2.64" fill="#FF6347"/>
<rect x="415.5" y="317.49" width="75.1" height="1.58" fill="#D050D0"/>
<rect x="415.5" y="319.87" width="75.1" height="3.34" fill="#C0FF3E"/>
<rect x="415.5" y="323.91" width="75.1" height="9.59" fill="#00E5EE"/>
<rect x="415.5" y="334.53" width="75.1" height="35.42" fill="#FFFF00"/>
<rect x="415.5" y="370.25" width="75.1" height="46" fill="#FF69B4"/>
<rect x="415.3" y="277.6" width="75.5" height="138.8" fill="none" stroke="#3a3a3a" stroke-width="0.4"/>
<line x1="453.05" y1="416.4" x2="453.05" y2="417.7" stroke="#333" stroke-width="0.4"/>
<rect x="499.5" y="277.6" width="75" height="138.8" fill="#101010"/>
<rect x="499.7" y="277.6" width="74.6" height="6.91" fill="#104E8B"/>
<rect x="499.7" y="285.39" width="74.6" height="1.14" fill="#3A0000"/>
<rect x="499.7" y="286.53" width="74.6" height="1.5" fill="#3A2020"/>
<rect x="499.7" y="288.91" width="74.6" height="2.2" fill="#1A3030"/>
<rect x="499.7" y="291.28" width="74.6" height="2.46" fill="#000070"/>
<rect x="499.7" y="293.75" width="74.6" height="1.93" fill="#2A0080"/>
<rect x="499.7" y="295.95" width="74.6" height="3.25" fill="#C8960A"/>
<rect x="499.7" y="299.38" width="74.6" height="0.53" fill="#7A1A1A"/>
<rect x="499.7" y="300.08" width="74.6" height="1.76" fill="#D8C090"/>
<rect x="499.7" y="302.1" width="74.6" height="2.02" fill="#7A1AB0"/>
<rect x="499.7" y="304.3" width="74.6" height="1.93" fill="#C71585"/>
<rect x="499.7" y="306.94" width="74.6" height="2.37" fill="#00E020"/>
<rect x="499.7" y="310.02" width="74.6" height="1.14" fill="#B0F0F0"/>
<rect x="499.7" y="311.34" width="74.6" height="1.58" fill="#1A6A6A"/>
<rect x="499.7" y="313.54" width="74.6" height="2.64" fill="#FF6347"/>
<rect x="499.7" y="316.88" width="74.6" height="3.25" fill="#E066FF"/>
<rect x="499.7" y="321.01" width="74.6" height="5.28" fill="#C0FF3E"/>
<rect x="499.7" y="326.46" width="74.6" height="0.88" fill="#2A8A3A"/>
<rect x="499.7" y="327.61" width="74.6" height="6.42" fill="#00E5EE"/>
<rect x="499.7" y="335.23" width="74.6" height="41.02" fill="#FFFF00"/>
<rect x="499.7" y="376.55" width="74.6" height="39.7" fill="#FF69B4"/>
<rect x="499.5" y="277.6" width="75" height="138.8" fill="none" stroke="#3a3a3a" stroke-width="0.4"/>
<line x1="537" y1="416.4" x2="537" y2="417.7" stroke="#333" stroke-width="0.4"/>
<text x="413.2" y="417.6" font-family="'Liberation Sans', sans-serif" font-size="3.4" fill="#1a1a1a" text-anchor="end" font-weight="normal">0.00</text>
<line x1="414" y1="416.4" x2="415.1" y2="416.4" stroke="#333" stroke-width="0.35"/>
<text x="413.2" y="382.9" font-family="'Liberation Sans', sans-serif" font-size="3.4" fill="#1a1a1a" text-anchor="end" font-weight="normal">0.25</text>
<line x1="414" y1="381.7" x2="415.1" y2="381.7" stroke="#333" stroke-width="0.35"/>
<text x="413.2" y="348.2" font-family="'Liberation Sans', sans-serif" font-size="3.4" fill="#1a1a1a" text-anchor="end" font-weight="normal">0.50</text>
<line x1="414" y1="347" x2="415.1" y2="347" stroke="#333" stroke-width="0.35"/>
<text x="413.2" y="313.5" font-family="'Liberation Sans', sans-serif" font-size="3.4" fill="#1a1a1a" text-anchor="end" font-weight="normal">0.75</text>
<line x1="414" y1="312.3" x2="415.1" y2="312.3" stroke="#333" stroke-width="0.35"/>
<text x="413.2" y="278.8" font-family="'Liberation Sans', sans-serif" font-size="3.4" fill="#1a1a1a" text-anchor="end" font-weight="normal">1.00</text>
<line x1="414" y1="277.6" x2="415.1" y2="277.6" stroke="#333" stroke-width="0.35"/>
<text x="494.8" y="273.8" font-family="'Liberation Sans', sans-serif" font-size="5.6" fill="#111" text-anchor="middle" font-weight="normal">genus</text>
<text x="403.4" y="351.5" font-family="'Liberation Sans', sans-serif" font-size="4.6" fill="#111" text-anchor="middle" font-weight="normal" transform="rotate(-90 403.4 351.5)">Abundance</text>
<text x="456.2" y="423.8" font-family="'Liberation Serif', serif" font-size="7.2" fill="#222" text-anchor="end" font-weight="normal" transform="rotate(-45 456.2 423.8)">FMT</text>
<text x="540" y="423.8" font-family="'Liberation Serif', serif" font-size="7.2" fill="#222" text-anchor="end" font-weight="normal" transform="rotate(-45 540 423.8)">CON</text>
<rect x="582.2" y="308.65" width="4.5" height="4.5" fill="#104E8B"/>
<text x="589.1" y="312.15" font-family="'Liberation Sans', sans-serif" font-size="3.5" fill="#222" text-anchor="start" font-weight="normal">Others(&lt;0.5%)</text>
<rect x="582.2" y="313.63" width="4.5" height="4.5" fill="#8B4789"/>
<text x="589.1" y="317.13" font-family="'Liberation Sans', sans-serif" font-size="3.5" fill="#222" text-anchor="start" font-weight="normal">Barnesiella</text>
<rect x="582.2" y="318.61" width="4.5" height="4.5" fill="#6B8E23"/>
<text x="589.1" y="322.11" font-family="'Liberation Sans', sans-serif" font-size="3.5" fill="#222" text-anchor="start" font-weight="normal">Alloprevotella</text>
<rect x="582.2" y="323.59" width="4.5" height="4.5" fill="#CD6600"/>
<text x="589.1" y="327.09" font-family="'Liberation Sans', sans-serif" font-size="3.5" fill="#222" text-anchor="start" font-weight="normal">Olsenella</text>
<rect x="582.2" y="328.57" width="4.5" height="4.5" fill="#668B8B"/>
<text x="589.1" y="332.07" font-family="'Liberation Sans', sans-serif" font-size="3.5" fill="#222" text-anchor="start" font-weight="normal">Peptococcus</text>
<rect x="582.2" y="333.55" width="4.5" height="4.5" fill="#8B0000"/>
<text x="589.1" y="337.05" font-family="'Liberation Sans', sans-serif" font-size="3.5" fill="#222" text-anchor="start" font-weight="normal">Treponema</text>
<rect x="582.2" y="338.53" width="4.5" height="4.5" fill="#8B7D6B"/>
<text x="589.1" y="342.03" font-family="'Liberation Sans', sans-serif" font-size="3.5" fill="#222" text-anchor="start" font-weight="normal">Caproiciproducens</text>
<rect x="582.2" y="343.51" width="4.5" height="4.5" fill="#CD2626"/>
<text x="589.1" y="347.01" font-family="'Liberation Sans', sans-serif" font-size="3.5" fill="#222" text-anchor="start" font-weight="normal">Pseudoflavonifractor</text>
<rect x="582.2" y="348.49" width="4.5" height="4.5" fill="#FFFACD"/>
<text x="589.1" y="351.99" font-family="'Liberation Sans', sans-serif" font-size="3.5" fill="#222" text-anchor="start" font-weight="normal">Faecalitalea</text>
<rect x="582.2" y="353.47" width="4.5" height="4.5" fill="#D3D3D3"/>
<text x="589.1" y="356.97" font-family="'Liberation Sans', sans-serif" font-size="3.5" fill="#222" text-anchor="start" font-weight="normal">Sellimonas</text>
<rect x="582.2" y="358.45" width="4.5" height="4.5" fill="#00CED1"/>
<text x="589.1" y="361.95" font-family="'Liberation Sans', sans-serif" font-size="3.5" fill="#222" text-anchor="start" font-weight="normal">Anaerofilum</text>
<rect x="582.2" y="363.43" width="4.5" height="4.5" fill="#EE82EE"/>
<text x="589.1" y="366.93" font-family="'Liberation Sans', sans-serif" font-size="3.5" fill="#222" text-anchor="start" font-weight="normal">Collinsella</text>
<rect x="582.2" y="368.41" width="4.5" height="4.5" fill="#006400"/>
<text x="589.1" y="371.91" font-family="'Liberation Sans', sans-serif" font-size="3.5" fill="#222" text-anchor="start" font-weight="normal">Peptoclostridium</text>
<rect x="582.2" y="373.39" width="4.5" height="4.5" fill="#00008B"/>
<text x="589.1" y="376.89" font-family="'Liberation Sans', sans-serif" font-size="3.5" fill="#222" text-anchor="start" font-weight="normal">Rikenella</text>
<rect x="582.2" y="378.37" width="4.5" height="4.5" fill="#F08080"/>
<text x="589.1" y="381.87" font-family="'Liberation Sans', sans-serif" font-size="3.5" fill="#222" text-anchor="start" font-weight="normal">Subdoligranulum</text>
<rect x="582.2" y="383.35" width="4.5" height="4.5" fill="#0000FF"/>
<text x="589.1" y="386.85" font-family="'Liberation Sans', sans-serif" font-size="3.5" fill="#222" text-anchor="start" font-weight="normal">Phascolarctobacterium</text>
<rect x="628" y="308.65" width="4.5" height="4.5" fill="#FF8C00"/>
<text x="634.9" y="312.15" font-family="'Liberation Sans', sans-serif" font-size="3.5" fill="#222" text-anchor="start" font-weight="normal">Lachnoclostridium</text>
<rect x="628" y="313.63" width="4.5" height="4.5" fill="#CDAD00"/>
<text x="634.9" y="317.13" font-family="'Liberation Sans', sans-serif" font-size="3.5" fill="#222" text-anchor="start" font-weight="normal">Mucispirillum</text>
<rect x="628" y="318.61" width="4.5" height="4.5" fill="#FF4500"/>
<text x="634.9" y="322.11" font-family="'Liberation Sans', sans-serif" font-size="3.5" fill="#222" text-anchor="start" font-weight="normal">Erysipelatoclostridium</text>
<rect x="628" y="323.59" width="4.5" height="4.5" fill="#FFEC8B"/>
<text x="634.9" y="327.09" font-family="'Liberation Sans', sans-serif" font-size="3.5" fill="#222" text-anchor="start" font-weight="normal">Ruminiclostridium</text>
<rect x="628" y="328.57" width="4.5" height="4.5" fill="#8A2BE2"/>
<text x="634.9" y="332.07" font-family="'Liberation Sans', sans-serif" font-size="3.5" fill="#222" text-anchor="start" font-weight="normal">Parabacteroides</text>
<rect x="628" y="333.55" width="4.5" height="4.5" fill="#C71585"/>
<text x="634.9" y="337.05" font-family="'Liberation Sans', sans-serif" font-size="3.5" fill="#222" text-anchor="start" font-weight="normal">Oscillospira</text>
<rect x="628" y="338.53" width="4.5" height="4.5" fill="#00FF00"/>
<text x="634.9" y="342.03" font-family="'Liberation Sans', sans-serif" font-size="3.5" fill="#222" text-anchor="start" font-weight="normal">Faecalibacterium</text>
<rect x="628" y="343.51" width="4.5" height="4.5" fill="#96E6F0"/>
<text x="634.9" y="347.01" font-family="'Liberation Sans', sans-serif" font-size="3.5" fill="#222" text-anchor="start" font-weight="normal">Butyricicoccus</text>
<rect x="628" y="348.49" width="4.5" height="4.5" fill="#008B8B"/>
<text x="634.9" y="351.99" font-family="'Liberation Sans', sans-serif" font-size="3.5" fill="#222" text-anchor="start" font-weight="normal">Megamonas</text>
<rect x="628" y="353.47" width="4.5" height="4.5" fill="#FF6347"/>
<text x="634.9" y="356.97" font-family="'Liberation Sans', sans-serif" font-size="3.5" fill="#222" text-anchor="start" font-weight="normal">Desulfovibrio</text>
<rect x="628" y="358.45" width="4.5" height="4.5" fill="#E066FF"/>
<text x="634.9" y="361.95" font-family="'Liberation Sans', sans-serif" font-size="3.5" fill="#222" text-anchor="start" font-weight="normal">Anaerotruncus</text>
<rect x="628" y="363.43" width="4.5" height="4.5" fill="#C0FF3E"/>
<text x="634.9" y="366.93" font-family="'Liberation Sans', sans-serif" font-size="3.5" fill="#222" text-anchor="start" font-weight="normal">Alistipes</text>
<rect x="628" y="368.41" width="4.5" height="4.5" fill="#00E5EE"/>
<text x="634.9" y="371.91" font-family="'Liberation Sans', sans-serif" font-size="3.5" fill="#222" text-anchor="start" font-weight="normal">Fusobacterium</text>
<rect x="628" y="373.39" width="4.5" height="4.5" fill="#FFFF00"/>
<text x="634.9" y="376.89" font-family="'Liberation Sans', sans-serif" font-size="3.5" fill="#222" text-anchor="start" font-weight="normal">Bacteroides</text>
<rect x="628" y="378.37" width="4.5" height="4.5" fill="#FF69B4"/>
<text x="634.9" y="381.87" font-family="'Liberation Sans', sans-serif" font-size="3.5" fill="#222" text-anchor="start" font-weight="normal">unclassified</text>
<g text-rendering="geometricPrecision">
<text x="121.8" y="482" font-family="'Liberation Serif', serif" font-size="16.5" fill="#111" text-anchor="start" font-weight="bold">(c)</text>
<defs><clipPath id="clipRed"><ellipse cx="357.3" cy="610.9" rx="114.9" ry="53.8" transform="rotate(-12.3 357.3 610.9)"/></clipPath></defs>
<ellipse cx="414.6" cy="632.9" rx="57.6" ry="39" transform="rotate(50.85 414.6 632.9)" fill="#CCDBF9"/>
<ellipse cx="357.3" cy="610.9" rx="114.9" ry="53.8" transform="rotate(-12.3 357.3 610.9)" fill="#FDE6E4"/>
<g clip-path="url(#clipRed)"><ellipse cx="414.6" cy="632.9" rx="57.6" ry="39" transform="rotate(50.85 414.6 632.9)" fill="#E4D5E8"/></g>
<g stroke="#8a8a8a" stroke-opacity="0.42" stroke-width="0.6" stroke-dasharray="2 2">
<line x1="232.64" y1="476.6" x2="232.64" y2="753.4"/>
<line x1="270.83" y1="476.6" x2="270.83" y2="753.4"/>
<line x1="309.02" y1="476.6" x2="309.02" y2="753.4"/>
<line x1="347.21" y1="476.6" x2="347.21" y2="753.4"/>
<line x1="423.59" y1="476.6" x2="423.59" y2="753.4"/>
<line x1="461.78" y1="476.6" x2="461.78" y2="753.4"/>
<line x1="499.97" y1="476.6" x2="499.97" y2="753.4"/>
<line x1="194.5" y1="718.9" x2="538.2" y2="718.9"/>
<line x1="194.5" y1="684.3" x2="538.2" y2="684.3"/>
<line x1="194.5" y1="649.7" x2="538.2" y2="649.7"/>
<line x1="194.5" y1="580.5" x2="538.2" y2="580.5"/>
<line x1="194.5" y1="545.9" x2="538.2" y2="545.9"/>
<line x1="194.5" y1="511.3" x2="538.2" y2="511.3"/>
</g>
<ellipse cx="357.3" cy="610.9" rx="114.9" ry="53.8" transform="rotate(-12.3 357.3 610.9)" fill="none" stroke="#857c7c" stroke-width="0.8"/>
<ellipse cx="414.6" cy="632.9" rx="57.6" ry="39" transform="rotate(50.85 414.6 632.9)" fill="none" stroke="#7c7c85" stroke-width="0.8"/>
<rect x="399.5" y="586.9" width="5.6" height="5.6" fill="#A4DBA0"/>
<rect x="407.7" y="610.8" width="5.6" height="5.6" fill="#A4DBA0"/>
<rect x="367.9" y="622" width="5.6" height="5.6" fill="#A4DBA0"/>
<rect x="433.7" y="621.2" width="5.6" height="5.6" fill="#A4DBA0"/>
<rect x="416.9" y="631.2" width="5.6" height="5.6" fill="#9CD89C"/>
<rect x="395.4" y="646.5" width="5.6" height="5.6" fill="#A4DBA0"/>
<rect x="441.8" y="647.6" width="5.6" height="5.6" fill="#3DDB6A"/>
<rect x="427.1" y="672.5" width="5.6" height="5.6" fill="#3DDB6A"/>
<line x1="414.6" y1="633" x2="402.3" y2="589.7" stroke="#6fe27f" stroke-width="0.65"/>
<line x1="414.6" y1="633" x2="410.5" y2="613.6" stroke="#6fe27f" stroke-width="0.65"/>
<line x1="414.6" y1="633" x2="370.7" y2="624.8" stroke="#6fe27f" stroke-width="0.65"/>
<line x1="414.6" y1="633" x2="436.5" y2="624" stroke="#6fe27f" stroke-width="0.65"/>
<line x1="414.6" y1="633" x2="419.7" y2="634" stroke="#6fe27f" stroke-width="0.65"/>
<line x1="414.6" y1="633" x2="398.2" y2="649.3" stroke="#6fe27f" stroke-width="0.65"/>
<line x1="414.6" y1="633" x2="444.6" y2="650.4" stroke="#6fe27f" stroke-width="0.65"/>
<line x1="414.6" y1="633" x2="429.9" y2="675.3" stroke="#6fe27f" stroke-width="0.65"/>
<line x1="356.9" y1="611" x2="248" y2="632.1" stroke="#F07878" stroke-width="0.6"/>
<line x1="356.9" y1="611" x2="377.4" y2="565.5" stroke="#F07878" stroke-width="0.6"/>
<line x1="356.9" y1="611" x2="356.8" y2="593.5" stroke="#F07878" stroke-width="0.6"/>
<line x1="356.9" y1="611" x2="334.3" y2="639.6" stroke="#F07878" stroke-width="0.6"/>
<line x1="356.9" y1="611" x2="336.1" y2="641.3" stroke="#F07878" stroke-width="0.6"/>
<line x1="356.9" y1="611" x2="409.5" y2="588.6" stroke="#F07878" stroke-width="0.6"/>
<line x1="356.9" y1="611" x2="439.7" y2="636.1" stroke="#F07878" stroke-width="0.6"/>
<path d="M244.2 629.2 L251.8 629.2 L248 635.6 Z" fill="#F04848"/>
<path d="M373.6 562.6 L381.2 562.6 L377.4 569 Z" fill="#F04848"/>
<path d="M353 590.6 L360.6 590.6 L356.8 597 Z" fill="#F04848"/>
<path d="M330.5 636.7 L338.1 636.7 L334.3 643.1 Z" fill="#F04848"/>
<path d="M332.3 638.4 L339.9 638.4 L336.1 644.8 Z" fill="#F04848"/>
<path d="M405.7 585.7 L413.3 585.7 L409.5 592.1 Z" fill="#E08898"/>
<path d="M435.9 633.2 L443.5 633.2 L439.7 639.6 Z" fill="#C04868"/>
<line x1="194.5" y1="615.1" x2="538.2" y2="615.1" stroke="#222" stroke-width="1.3" stroke-dasharray="6.45 4.3" stroke-dashoffset="0.9"/>
<line x1="385.4" y1="476.6" x2="385.4" y2="753.4" stroke="#222" stroke-width="1.3" stroke-dasharray="5.9 4.7" stroke-dashoffset="7.6"/>
<rect x="194.5" y="476.6" width="343.7" height="276.8" fill="none" stroke="#2a2a2a" stroke-width="1"/>
<text y="481.2" font-family="'Liberation Serif', serif" font-size="12.3" fill="#222" text-anchor="middle" x="167.95 172.25 179.75 185.65">0.20</text>
<line x1="194.5" y1="511.3" x2="199.5" y2="511.3" stroke="#2a2a2a" stroke-width="1"/>
<text y="515.8" font-family="'Liberation Serif', serif" font-size="12.3" fill="#222" text-anchor="middle" x="167.95 172.25 179.75 185.65">0.15</text>
<line x1="194.5" y1="545.9" x2="199.5" y2="545.9" stroke="#2a2a2a" stroke-width="1"/>
<text y="550.4" font-family="'Liberation Serif', serif" font-size="12.3" fill="#222" text-anchor="middle" x="167.95 172.25 179.75 185.65">0.10</text>
<line x1="194.5" y1="580.5" x2="199.5" y2="580.5" stroke="#2a2a2a" stroke-width="1"/>
<text y="585" font-family="'Liberation Serif', serif" font-size="12.3" fill="#222" text-anchor="middle" x="167.95 172.25 179.75 185.65">0.05</text>
<line x1="194.5" y1="615.1" x2="199.5" y2="615.1" stroke="#2a2a2a" stroke-width="1"/>
<text y="619.6" font-family="'Liberation Serif', serif" font-size="12.3" fill="#222" text-anchor="middle" x="167.95 172.25 179.75 185.65">0.00</text>
<line x1="194.5" y1="649.7" x2="199.5" y2="649.7" stroke="#2a2a2a" stroke-width="1"/>
<text y="654.2" font-family="'Liberation Serif', serif" font-size="12.3" fill="#222" text-anchor="middle" x="161.25 167.95 172.25 179.75 185.65">-0.05</text>
<line x1="194.5" y1="684.3" x2="199.5" y2="684.3" stroke="#2a2a2a" stroke-width="1"/>
<text y="688.8" font-family="'Liberation Serif', serif" font-size="12.3" fill="#222" text-anchor="middle" x="161.25 167.95 172.25 179.75 185.65">-0.10</text>
<line x1="194.5" y1="718.9" x2="199.5" y2="718.9" stroke="#2a2a2a" stroke-width="1"/>
<text y="723.4" font-family="'Liberation Serif', serif" font-size="12.3" fill="#222" text-anchor="middle" x="161.25 167.95 172.25 179.75 185.65">-0.15</text>
<text y="758" font-family="'Liberation Serif', serif" font-size="12.3" fill="#222" text-anchor="middle" x="161.25 167.95 172.25 179.75 185.65">-0.20</text>
<text y="769.3" font-family="'Liberation Serif', serif" font-size="12.3" fill="#222" text-anchor="middle" x="181.25 187.95 192.25 199.75 205.65">-0.25</text>
<line x1="232.64" y1="753.4" x2="232.64" y2="748.4" stroke="#2a2a2a" stroke-width="1"/>
<text y="769.3" font-family="'Liberation Serif', serif" font-size="12.3" fill="#222" text-anchor="middle" x="219.44 226.14 230.44 237.94 243.84">-0.20</text>
<line x1="270.83" y1="753.4" x2="270.83" y2="748.4" stroke="#2a2a2a" stroke-width="1"/>
<text y="769.3" font-family="'Liberation Serif', serif" font-size="12.3" fill="#222" text-anchor="middle" x="257.63 264.33 268.63 276.13 282.03">-0.15</text>
<line x1="309.02" y1="753.4" x2="309.02" y2="748.4" stroke="#2a2a2a" stroke-width="1"/>
<text y="769.3" font-family="'Liberation Serif', serif" font-size="12.3" fill="#222" text-anchor="middle" x="295.82 302.52 306.82 314.32 320.22">-0.10</text>
<line x1="347.21" y1="753.4" x2="347.21" y2="748.4" stroke="#2a2a2a" stroke-width="1"/>
<text y="769.3" font-family="'Liberation Serif', serif" font-size="12.3" fill="#222" text-anchor="middle" x="334.01 340.71 345.01 352.51 358.41">-0.05</text>
<line x1="385.4" y1="753.4" x2="385.4" y2="748.4" stroke="#2a2a2a" stroke-width="1"/>
<text y="769.3" font-family="'Liberation Serif', serif" font-size="12.3" fill="#222" text-anchor="middle" x="376.55 380.85 388.35 394.25">0.00</text>
<line x1="423.59" y1="753.4" x2="423.59" y2="748.4" stroke="#2a2a2a" stroke-width="1"/>
<text y="769.3" font-family="'Liberation Serif', serif" font-size="12.3" fill="#222" text-anchor="middle" x="414.74 419.04 426.54 432.44">0.05</text>
<line x1="461.78" y1="753.4" x2="461.78" y2="748.4" stroke="#2a2a2a" stroke-width="1"/>
<text y="769.3" font-family="'Liberation Serif', serif" font-size="12.3" fill="#222" text-anchor="middle" x="452.93 457.23 464.73 470.63">0.10</text>
<line x1="499.97" y1="753.4" x2="499.97" y2="748.4" stroke="#2a2a2a" stroke-width="1"/>
<text y="769.3" font-family="'Liberation Serif', serif" font-size="12.3" fill="#222" text-anchor="middle" x="491.12 495.42 502.92 508.82">0.15</text>
<text y="769.3" font-family="'Liberation Serif', serif" font-size="12.3" fill="#222" text-anchor="middle" x="529.31 533.61 541.11 547.01">0.20</text>
<text x="365.2" y="789.8" font-family="'Liberation Serif', serif" font-size="14.2" fill="#222" text-anchor="middle" font-weight="normal">PC1 (30.52%)</text>
<text x="153.2" y="614.6" font-family="'Liberation Serif', serif" font-size="14.2" fill="#222" text-anchor="middle" font-weight="normal" transform="rotate(-90 153.2 614.6)">PC2 (16.23%)</text>
<text x="528.4" y="493" font-family="'Liberation Serif', serif" font-size="13.2" fill="#111" text-anchor="end" font-weight="bold">R² = 0.18</text>
<text x="528.8" y="510.6" font-family="'Liberation Serif', serif" font-size="13.2" fill="#111" text-anchor="end" font-weight="bold">P = 0.617</text>
<rect x="549.4" y="480.8" width="6.7" height="6.5" fill="#00FF00"/>
<path d="M548.7 498.0 L557.1 498.0 L552.9 505.3 Z" fill="#FF0000"/>
<text x="570.5" y="488.1" font-family="'Liberation Serif', serif" font-size="13.2" fill="#1a1a1a" text-anchor="start" font-weight="normal">FMT</text>
<text x="570.5" y="504.9" font-family="'Liberation Serif', serif" font-size="13.2" fill="#1a1a1a" text-anchor="start" font-weight="normal">CON</text>
</g>
</svg>
</body>
</html>
